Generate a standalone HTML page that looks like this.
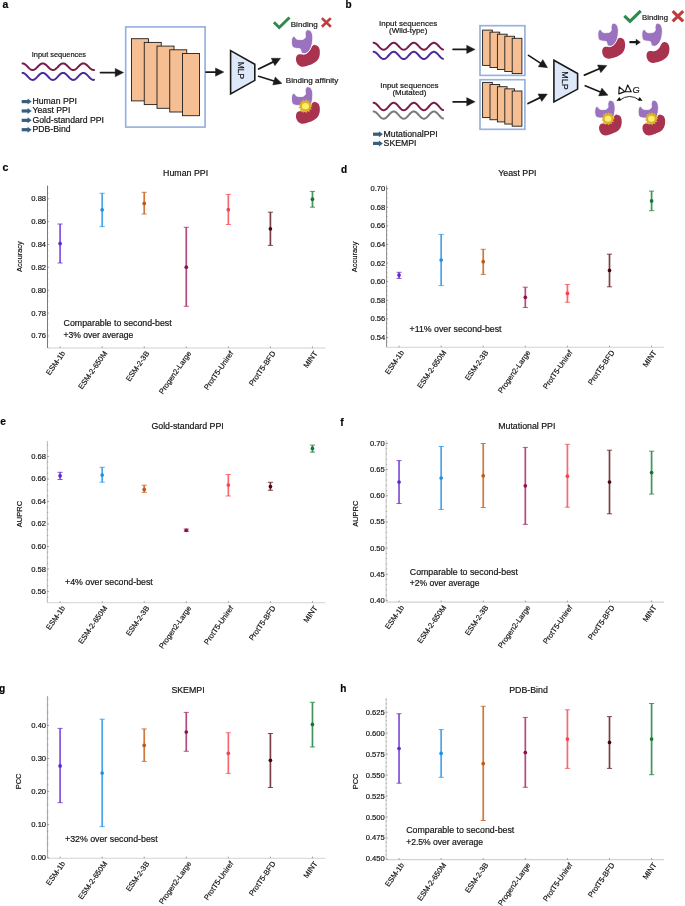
<!DOCTYPE html>
<html><head><meta charset="utf-8"><title>MINT benchmark figure</title><style>html,body{margin:0;padding:0;background:#fff;}body{width:685px;height:906px;overflow:hidden;}svg{display:block;will-change:transform;}</style></head><body>
<svg width="685" height="906" viewBox="0 0 685 906" font-family='"Liberation Sans", sans-serif'>
<style>text{stroke:#111;stroke-width:0.18px;paint-order:stroke;}</style>
<rect width="685" height="906" fill="#ffffff"/>
<text x="2.4" y="8.2" font-size="10.4" font-weight="bold" fill="#000">a</text>
<text x="345.6" y="7.9" font-size="10.0" font-weight="bold" fill="#000">b</text>
<text x="2.4" y="171.4" font-size="10.6" font-weight="bold" fill="#000">c</text>
<text x="341.1" y="172.9" font-size="10.0" font-weight="bold" fill="#000">d</text>
<text x="0.3" y="424.9" font-size="10.2" font-weight="bold" fill="#000">e</text>
<text x="340.3" y="425.6" font-size="10.4" font-weight="bold" fill="#000">f</text>
<text x="-0.9" y="691.6" font-size="10.2" font-weight="bold" fill="#000">g</text>
<text x="340.3" y="691.6" font-size="10.0" font-weight="bold" fill="#000">h</text>
<text x="31.80" y="56.60" font-size="7.4" fill="#111">Input sequences</text>
<polyline points="22.50,63.40 22.95,63.43 23.39,63.53 23.84,63.68 24.29,63.89 24.73,64.16 25.18,64.47 25.63,64.83 26.07,65.22 26.52,65.64 26.97,66.08 27.42,66.54 27.86,66.99 28.31,67.44 28.76,67.88 29.20,68.29 29.65,68.68 30.10,69.02 30.54,69.32 30.99,69.57 31.44,69.77 31.88,69.91 32.33,69.98 32.78,70.00 33.23,69.95 33.67,69.84 34.12,69.66 34.57,69.44 35.01,69.16 35.46,68.83 35.91,68.46 36.35,68.06 36.80,67.63 37.25,67.19 37.69,66.73 38.14,66.28 38.59,65.83 39.03,65.40 39.48,64.99 39.93,64.62 40.38,64.29 40.82,64.00 41.27,63.76 41.72,63.58 42.16,63.46 42.61,63.41 43.06,63.41 43.50,63.48 43.95,63.61 44.40,63.79 44.84,64.04 45.29,64.33 45.74,64.67 46.18,65.05 46.63,65.46 47.08,65.89 47.52,66.34 47.97,66.80 48.42,67.25 48.87,67.70 49.31,68.12 49.76,68.52 50.21,68.88 50.65,69.20 51.10,69.47 51.55,69.69 51.99,69.86 52.44,69.96 52.89,70.00 53.33,69.98 53.78,69.89 54.23,69.75 54.68,69.54 55.12,69.28 55.57,68.97 56.02,68.62 56.46,68.23 56.91,67.82 57.36,67.38 57.80,66.93 58.25,66.47 58.70,66.02 59.14,65.58 59.59,65.16 60.04,64.77 60.48,64.42 60.93,64.12 61.38,63.86 61.83,63.65 62.27,63.51 62.72,63.42 63.17,63.40 63.61,63.44 64.06,63.54 64.51,63.71 64.95,63.93 65.40,64.20 65.85,64.52 66.29,64.89 66.74,65.28 67.19,65.71 67.63,66.15 68.08,66.60 68.53,67.06 68.97,67.51 69.42,67.94 69.87,68.35 70.32,68.73 70.76,69.07 71.21,69.36 71.66,69.61 72.10,69.79 72.55,69.92 73.00,69.99 73.44,69.99 73.89,69.94 74.34,69.81 74.78,69.63 75.23,69.40 75.68,69.11 76.12,68.78 76.57,68.40 77.02,68.00 77.47,67.57 77.91,67.12 78.36,66.66 78.81,66.21 79.25,65.76 79.70,65.34 80.15,64.94 80.59,64.57 81.04,64.24 81.49,63.96 81.93,63.73 82.38,63.56 82.83,63.45 83.28,63.40 83.72,63.42 84.17,63.49 84.62,63.63 85.06,63.83 85.51,64.08 85.96,64.38 86.40,64.73 86.85,65.11 87.30,65.52 87.74,65.96 88.19,66.41 88.64,66.87 89.08,67.32 89.53,67.76 89.98,68.18 90.42,68.57 90.87,68.93 91.32,69.24 91.77,69.51 92.21,69.72 92.66,69.88 93.11,69.97 93.55,70.00 94.00,69.97" fill="none" stroke="#7a1a48" stroke-width="2.0" stroke-linecap="round" stroke-linejoin="round"/>
<polyline points="22.50,72.90 22.95,72.93 23.39,73.03 23.84,73.20 24.29,73.42 24.73,73.70 25.18,74.04 25.63,74.42 26.07,74.83 26.52,75.28 26.97,75.75 27.42,76.23 27.86,76.71 28.31,77.19 28.76,77.65 29.20,78.09 29.65,78.50 30.10,78.86 30.54,79.18 30.99,79.45 31.44,79.66 31.88,79.80 32.33,79.88 32.78,79.90 33.23,79.84 33.67,79.73 34.12,79.54 34.57,79.30 35.01,79.01 35.46,78.66 35.91,78.27 36.35,77.84 36.80,77.39 37.25,76.92 37.69,76.43 38.14,75.95 38.59,75.48 39.03,75.02 39.48,74.59 39.93,74.19 40.38,73.84 40.82,73.54 41.27,73.29 41.72,73.10 42.16,72.97 42.61,72.91 43.06,72.91 43.50,72.98 43.95,73.12 44.40,73.32 44.84,73.58 45.29,73.89 45.74,74.25 46.18,74.65 46.63,75.09 47.08,75.55 47.52,76.02 47.97,76.50 48.42,76.99 48.87,77.46 49.31,77.91 49.76,78.33 50.21,78.71 50.65,79.05 51.10,79.34 51.55,79.58 51.99,79.75 52.44,79.86 52.89,79.90 53.33,79.88 53.78,79.78 54.23,79.63 54.68,79.41 55.12,79.14 55.57,78.81 56.02,78.44 56.46,78.03 56.91,77.58 57.36,77.12 57.80,76.64 58.25,76.16 58.70,75.68 59.14,75.21 59.59,74.77 60.04,74.36 60.48,73.99 60.93,73.66 61.38,73.39 61.83,73.17 62.27,73.01 62.72,72.92 63.17,72.90 63.61,72.94 64.06,73.05 64.51,73.23 64.95,73.46 65.40,73.75 65.85,74.09 66.29,74.48 66.74,74.90 67.19,75.35 67.63,75.82 68.08,76.30 68.53,76.78 68.97,77.26 69.42,77.72 69.87,78.15 70.32,78.55 70.76,78.91 71.21,79.22 71.66,79.48 72.10,79.68 72.55,79.82 73.00,79.89 73.44,79.89 73.89,79.83 74.34,79.70 74.78,79.51 75.23,79.26 75.68,78.96 76.12,78.60 76.57,78.21 77.02,77.78 77.47,77.32 77.91,76.85 78.36,76.36 78.81,75.88 79.25,75.41 79.70,74.96 80.15,74.53 80.59,74.14 81.04,73.79 81.49,73.50 81.93,73.25 82.38,73.07 82.83,72.95 83.28,72.90 83.72,72.92 84.17,73.00 84.62,73.14 85.06,73.35 85.51,73.62 85.96,73.94 86.40,74.31 86.85,74.71 87.30,75.15 87.74,75.61 88.19,76.09 88.64,76.58 89.08,77.06 89.53,77.52 89.98,77.97 90.42,78.39 90.87,78.76 91.32,79.10 91.77,79.38 92.21,79.60 92.66,79.77 93.11,79.87 93.55,79.90 94.00,79.87" fill="none" stroke="#4b2a9c" stroke-width="2.0" stroke-linecap="round" stroke-linejoin="round"/>
<line x1="100.50" y1="72.60" x2="116.00" y2="72.60" stroke="#1a1a1a" stroke-width="1.7" stroke-linecap="round"/><polygon points="123.60,72.60 115.20,76.80 115.20,68.40" fill="#1a1a1a" stroke="#1a1a1a" stroke-width="0.4" stroke-linejoin="round"/>
<rect x="125.7" y="26.9" width="79.4" height="100.2" fill="none" stroke="#9ab2de" stroke-width="1.7"/>
<rect x="131.50" y="38.70" width="17.0" height="62.2" fill="#f6bf93" stroke="#1e1e1e" stroke-width="0.9"/><rect x="144.25" y="42.40" width="17.0" height="62.2" fill="#f6bf93" stroke="#1e1e1e" stroke-width="0.9"/><rect x="157.00" y="46.10" width="17.0" height="62.2" fill="#f6bf93" stroke="#1e1e1e" stroke-width="0.9"/><rect x="169.75" y="49.80" width="17.0" height="62.2" fill="#f6bf93" stroke="#1e1e1e" stroke-width="0.9"/><rect x="182.50" y="53.50" width="17.0" height="62.2" fill="#f6bf93" stroke="#1e1e1e" stroke-width="0.9"/>
<line x1="206.00" y1="72.10" x2="216.30" y2="72.10" stroke="#1a1a1a" stroke-width="1.7" stroke-linecap="round"/><polygon points="223.90,72.10 215.50,76.30 215.50,67.90" fill="#1a1a1a" stroke="#1a1a1a" stroke-width="0.4" stroke-linejoin="round"/>
<polygon points="230.6,50.6 254.8,64.2 254.8,80.4 230.6,94.0" fill="#dde9f8" stroke="#1a1a1a" stroke-width="1.6" stroke-linejoin="miter"/><text x="240.60" y="70.50" text-anchor="middle" font-size="8.4" fill="#111" transform="rotate(90 240.60 70.50)" dy="3.02">MLP</text>
<line x1="258.60" y1="69.00" x2="273.77" y2="61.62" stroke="#1a1a1a" stroke-width="1.7" stroke-linecap="round"/><polygon points="280.60,58.30 274.88,65.75 271.21,58.20" fill="#1a1a1a" stroke="#1a1a1a" stroke-width="0.4" stroke-linejoin="round"/>
<line x1="258.60" y1="76.30" x2="274.73" y2="81.19" stroke="#1a1a1a" stroke-width="1.7" stroke-linecap="round"/><polygon points="282.00,83.40 272.74,84.98 275.18,76.94" fill="#1a1a1a" stroke="#1a1a1a" stroke-width="0.4" stroke-linejoin="round"/>
<path transform="translate(273.0,16.6) scale(1.0)" d="M0.9,5.6 L6.3,10.9 L16.5,0.9" fill="none" stroke="#2f8a4e" stroke-width="3.0" stroke-linecap="butt" stroke-linejoin="miter"/>
<text x="290.70" y="26.50" font-size="8.1" fill="#111">Binding</text>
<g transform="translate(321.0,17.2) scale(1.0)" stroke="#c03c3c" stroke-width="2.6" stroke-linecap="butt"><line x1="0.9" y1="0.9" x2="9.8" y2="9.6"/><line x1="9.8" y1="0.9" x2="0.9" y2="9.6"/></g>
<text x="285.80" y="83.30" font-size="8.1" fill="#111">Binding affinity</text>
<g transform="translate(291.60,29.60) scale(1.0)"><path d="M23.50,15.30 C24.37,15.47 25.83,15.93 26.60,16.80 C27.37,17.67 27.88,18.92 28.10,20.50 C28.32,22.08 28.32,24.55 27.90,26.30 C27.48,28.05 26.75,29.68 25.60,31.00 C24.45,32.32 22.77,33.30 21.00,34.20 C19.23,35.10 16.70,35.90 15.00,36.40 C13.30,36.90 12.13,37.33 10.80,37.20 C9.47,37.07 8.02,36.50 7.00,35.60 C5.98,34.70 5.10,33.13 4.70,31.80 C4.30,30.47 4.28,28.73 4.60,27.60 C4.92,26.47 5.78,25.50 6.60,25.00 C7.42,24.50 8.53,24.60 9.50,24.60 C10.47,24.60 11.38,25.17 12.40,25.00 C13.42,24.83 14.67,24.27 15.60,23.60 C16.53,22.93 17.33,21.97 18.00,21.00 C18.67,20.03 19.03,18.67 19.60,17.80 C20.17,16.93 20.75,16.22 21.40,15.80 C22.05,15.38 22.63,15.13 23.50,15.30 Z" fill="#a9334f" transform="translate(0,0)"/><path d="M15.20,0.40 C16.07,-0.10 17.87,0.32 18.80,1.00 C19.73,1.68 20.40,3.17 20.80,4.50 C21.20,5.83 21.25,7.30 21.20,9.00 C21.15,10.70 20.92,12.93 20.50,14.70 C20.08,16.47 19.50,18.22 18.70,19.60 C17.90,20.98 16.72,22.23 15.70,23.00 C14.68,23.77 13.60,24.23 12.60,24.20 C11.60,24.17 10.33,23.60 9.70,22.80 C9.07,22.00 9.58,20.07 8.80,19.40 C8.02,18.73 6.28,19.10 5.00,18.80 C3.72,18.50 1.95,18.48 1.10,17.60 C0.25,16.72 0.07,14.83 -0.10,13.50 C-0.27,12.17 -0.07,10.62 0.10,9.60 C0.27,8.58 0.53,7.87 0.90,7.40 C1.27,6.93 1.87,6.78 2.30,6.80 C2.73,6.82 3.17,7.15 3.50,7.50 C3.83,7.85 3.92,8.53 4.30,8.90 C4.68,9.27 5.25,9.52 5.80,9.70 C6.35,9.88 6.63,10.02 7.60,10.00 C8.57,9.98 10.57,10.03 11.60,9.60 C12.63,9.17 13.47,8.33 13.80,7.40 C14.13,6.47 13.37,5.17 13.60,4.00 C13.83,2.83 14.33,0.90 15.20,0.40 Z" fill="#9a72bf" stroke="#ffffff" stroke-width="0.9"/></g>
<g transform="translate(291.60,86.60) scale(1.0)"><path d="M23.50,15.30 C24.37,15.47 25.83,15.93 26.60,16.80 C27.37,17.67 27.88,18.92 28.10,20.50 C28.32,22.08 28.32,24.55 27.90,26.30 C27.48,28.05 26.75,29.68 25.60,31.00 C24.45,32.32 22.77,33.30 21.00,34.20 C19.23,35.10 16.70,35.90 15.00,36.40 C13.30,36.90 12.13,37.33 10.80,37.20 C9.47,37.07 8.02,36.50 7.00,35.60 C5.98,34.70 5.10,33.13 4.70,31.80 C4.30,30.47 4.28,28.73 4.60,27.60 C4.92,26.47 5.78,25.50 6.60,25.00 C7.42,24.50 8.53,24.60 9.50,24.60 C10.47,24.60 11.38,25.17 12.40,25.00 C13.42,24.83 14.67,24.27 15.60,23.60 C16.53,22.93 17.33,21.97 18.00,21.00 C18.67,20.03 19.03,18.67 19.60,17.80 C20.17,16.93 20.75,16.22 21.40,15.80 C22.05,15.38 22.63,15.13 23.50,15.30 Z" fill="#a9334f" transform="translate(0,0)"/><path d="M15.20,0.40 C16.07,-0.10 17.87,0.32 18.80,1.00 C19.73,1.68 20.40,3.17 20.80,4.50 C21.20,5.83 21.25,7.30 21.20,9.00 C21.15,10.70 20.92,12.93 20.50,14.70 C20.08,16.47 19.50,18.22 18.70,19.60 C17.90,20.98 16.72,22.23 15.70,23.00 C14.68,23.77 13.60,24.23 12.60,24.20 C11.60,24.17 10.33,23.60 9.70,22.80 C9.07,22.00 9.58,20.07 8.80,19.40 C8.02,18.73 6.28,19.10 5.00,18.80 C3.72,18.50 1.95,18.48 1.10,17.60 C0.25,16.72 0.07,14.83 -0.10,13.50 C-0.27,12.17 -0.07,10.62 0.10,9.60 C0.27,8.58 0.53,7.87 0.90,7.40 C1.27,6.93 1.87,6.78 2.30,6.80 C2.73,6.82 3.17,7.15 3.50,7.50 C3.83,7.85 3.92,8.53 4.30,8.90 C4.68,9.27 5.25,9.52 5.80,9.70 C6.35,9.88 6.63,10.02 7.60,10.00 C8.57,9.98 10.57,10.03 11.60,9.60 C12.63,9.17 13.47,8.33 13.80,7.40 C14.13,6.47 13.37,5.17 13.60,4.00 C13.83,2.83 14.33,0.90 15.20,0.40 Z" fill="#9a72bf" stroke="#ffffff" stroke-width="0.9"/><polygon points="21.00,19.60 18.95,20.87 20.18,22.95 17.77,23.11 17.89,25.53 15.68,24.56 14.67,26.75 13.16,24.86 11.25,26.33 10.79,23.96 8.41,24.37 9.11,22.06 6.81,21.32 8.50,19.60 6.81,17.88 9.11,17.14 8.41,14.83 10.79,15.24 11.25,12.87 13.16,14.34 14.67,12.45 15.68,14.64 17.89,13.67 17.77,16.09 20.18,16.25 18.95,18.33" fill="#deb02a"/><ellipse cx="13.8" cy="19.6" rx="3.5" ry="3.1" fill="#fbf06a"/></g>
<rect x="21.70" y="100.00" width="6.4" height="3.2" fill="#365f80"/><polygon points="27.60,98.60 31.60,101.60 27.60,104.60" fill="#365f80"/>
<text x="32.50" y="104.00" font-size="8.7" fill="#111">Human PPI</text>
<rect x="21.70" y="109.37" width="6.4" height="3.2" fill="#365f80"/><polygon points="27.60,107.97 31.60,110.97 27.60,113.97" fill="#365f80"/>
<text x="32.50" y="113.37" font-size="8.7" fill="#111">Yeast PPI</text>
<rect x="21.70" y="118.74" width="6.4" height="3.2" fill="#365f80"/><polygon points="27.60,117.34 31.60,120.34 27.60,123.34" fill="#365f80"/>
<text x="32.50" y="122.74" font-size="8.7" fill="#111">Gold-standard PPI</text>
<rect x="21.70" y="128.11" width="6.4" height="3.2" fill="#365f80"/><polygon points="27.60,126.71 31.60,129.71 27.60,132.71" fill="#365f80"/>
<text x="32.50" y="132.11" font-size="8.7" fill="#111">PDB-Bind</text>
<text x="408.20" y="26.20" font-size="7.95" text-anchor="middle" fill="#111">Input sequences</text>
<text x="408.20" y="33.30" font-size="7.95" text-anchor="middle" fill="#111">(Wild-type)</text>
<polyline points="373.60,42.80 374.03,42.83 374.47,42.93 374.90,43.08 375.34,43.30 375.77,43.56 376.20,43.88 376.64,44.24 377.07,44.64 377.50,45.07 377.94,45.51 378.37,45.98 378.81,46.44 379.24,46.91 379.67,47.36 380.11,47.79 380.54,48.19 380.97,48.56 381.41,48.89 381.84,49.16 382.28,49.39 382.71,49.55 383.14,49.66 383.58,49.70 384.01,49.68 384.44,49.59 384.88,49.45 385.31,49.25 385.75,48.99 386.18,48.68 386.61,48.32 387.05,47.93 387.48,47.51 387.91,47.06 388.35,46.60 388.78,46.14 389.22,45.67 389.65,45.22 390.08,44.78 390.52,44.37 390.95,44.00 391.38,43.67 391.82,43.38 392.25,43.15 392.69,42.97 393.12,42.86 393.55,42.80 393.99,42.81 394.42,42.89 394.85,43.02 395.29,43.22 395.72,43.47 396.16,43.77 396.59,44.11 397.02,44.50 397.46,44.92 397.89,45.36 398.32,45.82 398.76,46.29 399.19,46.75 399.62,47.21 400.06,47.65 400.49,48.06 400.93,48.44 401.36,48.78 401.79,49.07 402.23,49.32 402.66,49.50 403.10,49.63 403.53,49.69 403.96,49.69 404.40,49.63 404.83,49.51 405.26,49.32 405.70,49.08 406.13,48.79 406.56,48.45 407.00,48.07 407.43,47.66 407.87,47.22 408.30,46.76 408.73,46.29 409.17,45.83 409.60,45.37 410.04,44.93 410.47,44.51 410.90,44.12 411.34,43.77 411.77,43.47 412.20,43.22 412.64,43.03 413.07,42.89 413.50,42.81 413.94,42.80 414.37,42.86 414.81,42.97 415.24,43.14 415.67,43.38 416.11,43.66 416.54,43.99 416.98,44.36 417.41,44.77 417.84,45.21 418.28,45.66 418.71,46.13 419.14,46.59 419.58,47.05 420.01,47.50 420.44,47.92 420.88,48.32 421.31,48.67 421.75,48.98 422.18,49.24 422.61,49.45 423.05,49.59 423.48,49.68 423.92,49.70 424.35,49.66 424.78,49.55 425.22,49.39 425.65,49.17 426.08,48.89 426.52,48.57 426.95,48.20 427.38,47.80 427.82,47.37 428.25,46.92 428.69,46.45 429.12,45.99 429.55,45.52 429.99,45.07 430.42,44.65 430.86,44.25 431.29,43.89 431.72,43.57 432.16,43.30 432.59,43.09 433.02,42.93 433.46,42.83 433.89,42.80 434.32,42.83 434.76,42.92 435.19,43.08 435.63,43.29 436.06,43.56 436.49,43.87 436.93,44.23 437.36,44.63 437.80,45.06 438.23,45.51 438.66,45.97 439.10,46.43 439.53,46.90 439.96,47.35 440.40,47.78 440.83,48.19 441.26,48.55 441.70,48.88 442.13,49.16 442.57,49.38 443.00,49.55" fill="none" stroke="#7a1a48" stroke-width="2.0" stroke-linecap="round" stroke-linejoin="round"/>
<polyline points="373.60,51.80 374.03,51.83 374.47,51.93 374.90,52.09 375.34,52.32 375.77,52.60 376.20,52.93 376.64,53.30 377.07,53.72 377.50,54.16 377.94,54.63 378.37,55.11 378.81,55.60 379.24,56.09 379.67,56.56 380.11,57.01 380.54,57.43 380.97,57.81 381.41,58.15 381.84,58.44 382.28,58.67 382.71,58.85 383.14,58.95 383.58,59.00 384.01,58.98 384.44,58.89 384.88,58.74 385.31,58.53 385.75,58.26 386.18,57.93 386.61,57.56 387.05,57.15 387.48,56.71 387.91,56.25 388.35,55.77 388.78,55.28 389.22,54.80 389.65,54.32 390.08,53.87 390.52,53.44 390.95,53.05 391.38,52.70 391.82,52.41 392.25,52.16 392.69,51.98 393.12,51.86 393.55,51.80 393.99,51.81 394.42,51.89 394.85,52.03 395.29,52.23 395.72,52.49 396.16,52.81 396.59,53.17 397.02,53.57 397.46,54.01 397.89,54.47 398.32,54.95 398.76,55.44 399.19,55.92 399.62,56.40 400.06,56.86 400.49,57.29 400.93,57.69 401.36,58.04 401.79,58.35 402.23,58.60 402.66,58.79 403.10,58.92 403.53,58.99 403.96,58.99 404.40,58.93 404.83,58.80 405.26,58.60 405.70,58.35 406.13,58.05 406.56,57.69 407.00,57.30 407.43,56.87 407.87,56.41 408.30,55.93 408.73,55.45 409.17,54.96 409.60,54.48 410.04,54.02 410.47,53.58 410.90,53.18 411.34,52.82 411.77,52.50 412.20,52.24 412.64,52.04 413.07,51.89 413.50,51.82 413.94,51.80 414.37,51.86 414.81,51.98 415.24,52.16 415.67,52.40 416.11,52.70 416.54,53.04 416.98,53.43 417.41,53.86 417.84,54.31 418.28,54.79 418.71,55.27 419.14,55.76 419.58,56.24 420.01,56.70 420.44,57.15 420.88,57.56 421.31,57.93 421.75,58.25 422.18,58.52 422.61,58.73 423.05,58.89 423.48,58.98 423.92,59.00 424.35,58.96 424.78,58.85 425.22,58.68 425.65,58.44 426.08,58.16 426.52,57.82 426.95,57.44 427.38,57.02 427.82,56.57 428.25,56.10 428.69,55.61 429.12,55.12 429.55,54.64 429.99,54.17 430.42,53.73 430.86,53.31 431.29,52.93 431.72,52.60 432.16,52.32 432.59,52.10 433.02,51.93 433.46,51.83 433.89,51.80 434.32,51.83 434.76,51.93 435.19,52.09 435.63,52.31 436.06,52.59 436.49,52.92 436.93,53.30 437.36,53.71 437.80,54.15 438.23,54.62 438.66,55.10 439.10,55.59 439.53,56.08 439.96,56.55 440.40,57.00 440.83,57.42 441.26,57.80 441.70,58.14 442.13,58.43 442.57,58.67 443.00,58.84" fill="none" stroke="#4b2a9c" stroke-width="2.0" stroke-linecap="round" stroke-linejoin="round"/>
<line x1="453.10" y1="49.40" x2="467.50" y2="49.40" stroke="#1a1a1a" stroke-width="1.7" stroke-linecap="round"/><polygon points="475.10,49.40 466.70,53.60 466.70,45.20" fill="#1a1a1a" stroke="#1a1a1a" stroke-width="0.4" stroke-linejoin="round"/>
<rect x="480.0" y="25.7" width="44.9" height="49.7" fill="none" stroke="#9ab2de" stroke-width="1.7"/>
<rect x="482.60" y="30.10" width="9.7" height="35.3" fill="#f6bf93" stroke="#1e1e1e" stroke-width="0.9"/><rect x="490.00" y="32.15" width="9.7" height="35.3" fill="#f6bf93" stroke="#1e1e1e" stroke-width="0.9"/><rect x="497.40" y="34.20" width="9.7" height="35.3" fill="#f6bf93" stroke="#1e1e1e" stroke-width="0.9"/><rect x="504.80" y="36.25" width="9.7" height="35.3" fill="#f6bf93" stroke="#1e1e1e" stroke-width="0.9"/><rect x="512.20" y="38.30" width="9.7" height="35.3" fill="#f6bf93" stroke="#1e1e1e" stroke-width="0.9"/>
<text x="409.40" y="87.90" font-size="7.95" text-anchor="middle" fill="#111">Input sequences</text>
<text x="409.40" y="94.50" font-size="7.95" text-anchor="middle" fill="#111">(Mutated)</text>
<polyline points="373.60,102.80 374.03,102.83 374.47,102.94 374.90,103.10 375.34,103.33 375.77,103.62 376.20,103.96 376.64,104.35 377.07,104.77 377.50,105.23 377.94,105.71 378.37,106.21 378.81,106.71 379.24,107.21 379.67,107.69 380.11,108.15 380.54,108.58 380.97,108.98 381.41,109.33 381.84,109.62 382.28,109.86 382.71,110.04 383.14,110.15 383.58,110.20 384.01,110.18 384.44,110.09 384.88,109.93 385.31,109.71 385.75,109.43 386.18,109.10 386.61,108.72 387.05,108.30 387.48,107.85 387.91,107.37 388.35,106.88 388.78,106.38 389.22,105.88 389.65,105.39 390.08,104.92 390.52,104.49 390.95,104.08 391.38,103.73 391.82,103.42 392.25,103.17 392.69,102.98 393.12,102.86 393.55,102.80 393.99,102.81 394.42,102.89 394.85,103.04 395.29,103.25 395.72,103.51 396.16,103.84 396.59,104.21 397.02,104.62 397.46,105.07 397.89,105.55 398.32,106.04 398.76,106.54 399.19,107.04 399.62,107.53 400.06,108.00 400.49,108.44 400.93,108.85 401.36,109.21 401.79,109.53 402.23,109.79 402.66,109.99 403.10,110.12 403.53,110.19 403.96,110.19 404.40,110.12 404.83,109.99 405.26,109.79 405.70,109.54 406.13,109.22 406.56,108.86 407.00,108.45 407.43,108.01 407.87,107.54 408.30,107.05 408.73,106.55 409.17,106.05 409.60,105.55 410.04,105.08 410.47,104.63 410.90,104.22 411.34,103.84 411.77,103.52 412.20,103.25 412.64,103.04 413.07,102.90 413.50,102.82 413.94,102.80 414.37,102.86 414.81,102.98 415.24,103.17 415.67,103.42 416.11,103.72 416.54,104.08 416.98,104.48 417.41,104.91 417.84,105.38 418.28,105.87 418.71,106.37 419.14,106.87 419.58,107.36 420.01,107.84 420.44,108.29 420.88,108.72 421.31,109.10 421.75,109.43 422.18,109.71 422.61,109.93 423.05,110.08 423.48,110.18 423.92,110.20 424.35,110.16 424.78,110.04 425.22,109.87 425.65,109.63 426.08,109.33 426.52,108.99 426.95,108.59 427.38,108.16 427.82,107.70 428.25,107.22 428.69,106.72 429.12,106.22 429.55,105.72 429.99,105.24 430.42,104.78 430.86,104.35 431.29,103.97 431.72,103.62 432.16,103.34 432.59,103.11 433.02,102.94 433.46,102.84 433.89,102.80 434.32,102.83 434.76,102.93 435.19,103.10 435.63,103.33 436.06,103.61 436.49,103.95 436.93,104.34 437.36,104.76 437.80,105.22 438.23,105.70 438.66,106.20 439.10,106.70 439.53,107.20 439.96,107.68 440.40,108.14 440.83,108.58 441.26,108.97 441.70,109.32 442.13,109.62 442.57,109.86 443.00,110.04" fill="none" stroke="#7a1a48" stroke-width="2.0" stroke-linecap="round" stroke-linejoin="round"/>
<polyline points="373.60,111.50 374.03,111.53 374.47,111.63 374.90,111.79 375.34,112.02 375.77,112.30 376.20,112.63 376.64,113.00 377.07,113.42 377.50,113.86 377.94,114.33 378.37,114.81 378.81,115.30 379.24,115.79 379.67,116.26 380.11,116.71 380.54,117.13 380.97,117.51 381.41,117.85 381.84,118.14 382.28,118.37 382.71,118.55 383.14,118.65 383.58,118.70 384.01,118.68 384.44,118.59 384.88,118.44 385.31,118.23 385.75,117.96 386.18,117.63 386.61,117.26 387.05,116.85 387.48,116.41 387.91,115.95 388.35,115.47 388.78,114.98 389.22,114.50 389.65,114.02 390.08,113.57 390.52,113.14 390.95,112.75 391.38,112.40 391.82,112.11 392.25,111.86 392.69,111.68 393.12,111.56 393.55,111.50 393.99,111.51 394.42,111.59 394.85,111.73 395.29,111.93 395.72,112.19 396.16,112.51 396.59,112.87 397.02,113.27 397.46,113.71 397.89,114.17 398.32,114.65 398.76,115.14 399.19,115.62 399.62,116.10 400.06,116.56 400.49,116.99 400.93,117.39 401.36,117.74 401.79,118.05 402.23,118.30 402.66,118.49 403.10,118.62 403.53,118.69 403.96,118.69 404.40,118.63 404.83,118.50 405.26,118.30 405.70,118.05 406.13,117.75 406.56,117.39 407.00,117.00 407.43,116.57 407.87,116.11 408.30,115.63 408.73,115.15 409.17,114.66 409.60,114.18 410.04,113.72 410.47,113.28 410.90,112.88 411.34,112.52 411.77,112.20 412.20,111.94 412.64,111.74 413.07,111.59 413.50,111.52 413.94,111.50 414.37,111.56 414.81,111.68 415.24,111.86 415.67,112.10 416.11,112.40 416.54,112.74 416.98,113.13 417.41,113.56 417.84,114.01 418.28,114.49 418.71,114.97 419.14,115.46 419.58,115.94 420.01,116.40 420.44,116.85 420.88,117.26 421.31,117.63 421.75,117.95 422.18,118.22 422.61,118.43 423.05,118.59 423.48,118.68 423.92,118.70 424.35,118.66 424.78,118.55 425.22,118.38 425.65,118.14 426.08,117.86 426.52,117.52 426.95,117.14 427.38,116.72 427.82,116.27 428.25,115.80 428.69,115.31 429.12,114.82 429.55,114.34 429.99,113.87 430.42,113.43 430.86,113.01 431.29,112.63 431.72,112.30 432.16,112.02 432.59,111.80 433.02,111.63 433.46,111.53 433.89,111.50 434.32,111.53 434.76,111.63 435.19,111.79 435.63,112.01 436.06,112.29 436.49,112.62 436.93,113.00 437.36,113.41 437.80,113.85 438.23,114.32 438.66,114.80 439.10,115.29 439.53,115.78 439.96,116.25 440.40,116.70 440.83,117.12 441.26,117.50 441.70,117.84 442.13,118.13 442.57,118.37 443.00,118.54" fill="none" stroke="#7a7a7a" stroke-width="2.0" stroke-linecap="round" stroke-linejoin="round"/>
<line x1="453.10" y1="101.80" x2="467.50" y2="101.80" stroke="#1a1a1a" stroke-width="1.7" stroke-linecap="round"/><polygon points="475.10,101.80 466.70,106.00 466.70,97.60" fill="#1a1a1a" stroke="#1a1a1a" stroke-width="0.4" stroke-linejoin="round"/>
<rect x="480.0" y="79.7" width="44.9" height="49.6" fill="none" stroke="#9ab2de" stroke-width="1.7"/>
<rect x="482.60" y="82.40" width="9.7" height="35.2" fill="#f6bf93" stroke="#1e1e1e" stroke-width="0.9"/><rect x="490.00" y="84.55" width="9.7" height="35.2" fill="#f6bf93" stroke="#1e1e1e" stroke-width="0.9"/><rect x="497.40" y="86.70" width="9.7" height="35.2" fill="#f6bf93" stroke="#1e1e1e" stroke-width="0.9"/><rect x="504.80" y="88.85" width="9.7" height="35.2" fill="#f6bf93" stroke="#1e1e1e" stroke-width="0.9"/><rect x="512.20" y="91.00" width="9.7" height="35.2" fill="#f6bf93" stroke="#1e1e1e" stroke-width="0.9"/>
<line x1="528.50" y1="55.40" x2="541.21" y2="63.59" stroke="#1a1a1a" stroke-width="1.7" stroke-linecap="round"/><polygon points="547.60,67.70 538.26,66.68 542.81,59.62" fill="#1a1a1a" stroke="#1a1a1a" stroke-width="0.4" stroke-linejoin="round"/>
<line x1="528.00" y1="103.60" x2="540.59" y2="97.37" stroke="#1a1a1a" stroke-width="1.7" stroke-linecap="round"/><polygon points="547.40,94.00 541.73,101.49 538.01,93.96" fill="#1a1a1a" stroke="#1a1a1a" stroke-width="0.4" stroke-linejoin="round"/>
<polygon points="553.9,60.3 577.6,73.5 577.6,89.1 553.9,102.0" fill="#dde9f8" stroke="#1a1a1a" stroke-width="1.6" stroke-linejoin="miter"/><text x="565.20" y="80.40" text-anchor="middle" font-size="9.0" fill="#111" transform="rotate(90 565.20 80.40)" dy="3.24">MLP</text>
<line x1="584.40" y1="75.10" x2="599.91" y2="68.48" stroke="#1a1a1a" stroke-width="1.7" stroke-linecap="round"/><polygon points="606.90,65.50 600.82,72.66 597.53,64.93" fill="#1a1a1a" stroke="#1a1a1a" stroke-width="0.4" stroke-linejoin="round"/>
<line x1="585.20" y1="85.80" x2="600.97" y2="92.30" stroke="#1a1a1a" stroke-width="1.7" stroke-linecap="round"/><polygon points="608.00,95.20 598.63,95.88 601.83,88.12" fill="#1a1a1a" stroke="#1a1a1a" stroke-width="0.4" stroke-linejoin="round"/>
<path transform="translate(623.4,9.9) scale(1.05)" d="M0.9,5.6 L6.3,10.9 L16.5,0.9" fill="none" stroke="#2f8a4e" stroke-width="3.0" stroke-linecap="butt" stroke-linejoin="miter"/>
<text x="642.00" y="20.20" font-size="7.8" fill="#111">Binding</text>
<g transform="translate(671.6,10.1) scale(1.18)" stroke="#c03c3c" stroke-width="2.6" stroke-linecap="butt"><line x1="0.9" y1="0.9" x2="9.8" y2="9.6"/><line x1="9.8" y1="0.9" x2="0.9" y2="9.6"/></g>
<g transform="translate(598.00,23.10) scale(0.96)"><path d="M23.50,15.30 C24.37,15.47 25.83,15.93 26.60,16.80 C27.37,17.67 27.88,18.92 28.10,20.50 C28.32,22.08 28.32,24.55 27.90,26.30 C27.48,28.05 26.75,29.68 25.60,31.00 C24.45,32.32 22.77,33.30 21.00,34.20 C19.23,35.10 16.70,35.90 15.00,36.40 C13.30,36.90 12.13,37.33 10.80,37.20 C9.47,37.07 8.02,36.50 7.00,35.60 C5.98,34.70 5.10,33.13 4.70,31.80 C4.30,30.47 4.28,28.73 4.60,27.60 C4.92,26.47 5.78,25.50 6.60,25.00 C7.42,24.50 8.53,24.60 9.50,24.60 C10.47,24.60 11.38,25.17 12.40,25.00 C13.42,24.83 14.67,24.27 15.60,23.60 C16.53,22.93 17.33,21.97 18.00,21.00 C18.67,20.03 19.03,18.67 19.60,17.80 C20.17,16.93 20.75,16.22 21.40,15.80 C22.05,15.38 22.63,15.13 23.50,15.30 Z" fill="#a9334f" transform="translate(0,0)"/><path d="M15.20,0.40 C16.07,-0.10 17.87,0.32 18.80,1.00 C19.73,1.68 20.40,3.17 20.80,4.50 C21.20,5.83 21.25,7.30 21.20,9.00 C21.15,10.70 20.92,12.93 20.50,14.70 C20.08,16.47 19.50,18.22 18.70,19.60 C17.90,20.98 16.72,22.23 15.70,23.00 C14.68,23.77 13.60,24.23 12.60,24.20 C11.60,24.17 10.33,23.60 9.70,22.80 C9.07,22.00 9.58,20.07 8.80,19.40 C8.02,18.73 6.28,19.10 5.00,18.80 C3.72,18.50 1.95,18.48 1.10,17.60 C0.25,16.72 0.07,14.83 -0.10,13.50 C-0.27,12.17 -0.07,10.62 0.10,9.60 C0.27,8.58 0.53,7.87 0.90,7.40 C1.27,6.93 1.87,6.78 2.30,6.80 C2.73,6.82 3.17,7.15 3.50,7.50 C3.83,7.85 3.92,8.53 4.30,8.90 C4.68,9.27 5.25,9.52 5.80,9.70 C6.35,9.88 6.63,10.02 7.60,10.00 C8.57,9.98 10.57,10.03 11.60,9.60 C12.63,9.17 13.47,8.33 13.80,7.40 C14.13,6.47 13.37,5.17 13.60,4.00 C13.83,2.83 14.33,0.90 15.20,0.40 Z" fill="#9a72bf" stroke="#ffffff" stroke-width="0.9"/></g>
<line x1="630.30" y1="42.20" x2="636.80" y2="42.20" stroke="#1a1a1a" stroke-width="2.2" stroke-linecap="round"/><polygon points="640.40,42.20 636.00,45.20 636.00,39.20" fill="#1a1a1a" stroke="#1a1a1a" stroke-width="0.4" stroke-linejoin="round"/>
<g transform="translate(642.00,23.10) scale(0.96)"><path d="M23.50,15.30 C24.37,15.47 25.83,15.93 26.60,16.80 C27.37,17.67 27.88,18.92 28.10,20.50 C28.32,22.08 28.32,24.55 27.90,26.30 C27.48,28.05 26.75,29.68 25.60,31.00 C24.45,32.32 22.77,33.30 21.00,34.20 C19.23,35.10 16.70,35.90 15.00,36.40 C13.30,36.90 12.13,37.33 10.80,37.20 C9.47,37.07 8.02,36.50 7.00,35.60 C5.98,34.70 5.10,33.13 4.70,31.80 C4.30,30.47 4.28,28.73 4.60,27.60 C4.92,26.47 5.78,25.50 6.60,25.00 C7.42,24.50 8.53,24.60 9.50,24.60 C10.47,24.60 11.38,25.17 12.40,25.00 C13.42,24.83 14.67,24.27 15.60,23.60 C16.53,22.93 17.33,21.97 18.00,21.00 C18.67,20.03 19.03,18.67 19.60,17.80 C20.17,16.93 20.75,16.22 21.40,15.80 C22.05,15.38 22.63,15.13 23.50,15.30 Z" fill="#a9334f" transform="translate(0.3,4.4)"/><path d="M15.20,0.40 C16.07,-0.10 17.87,0.32 18.80,1.00 C19.73,1.68 20.40,3.17 20.80,4.50 C21.20,5.83 21.25,7.30 21.20,9.00 C21.15,10.70 20.92,12.93 20.50,14.70 C20.08,16.47 19.50,18.22 18.70,19.60 C17.90,20.98 16.72,22.23 15.70,23.00 C14.68,23.77 13.60,24.23 12.60,24.20 C11.60,24.17 10.33,23.60 9.70,22.80 C9.07,22.00 9.58,20.07 8.80,19.40 C8.02,18.73 6.28,19.10 5.00,18.80 C3.72,18.50 1.95,18.48 1.10,17.60 C0.25,16.72 0.07,14.83 -0.10,13.50 C-0.27,12.17 -0.07,10.62 0.10,9.60 C0.27,8.58 0.53,7.87 0.90,7.40 C1.27,6.93 1.87,6.78 2.30,6.80 C2.73,6.82 3.17,7.15 3.50,7.50 C3.83,7.85 3.92,8.53 4.30,8.90 C4.68,9.27 5.25,9.52 5.80,9.70 C6.35,9.88 6.63,10.02 7.60,10.00 C8.57,9.98 10.57,10.03 11.60,9.60 C12.63,9.17 13.47,8.33 13.80,7.40 C14.13,6.47 13.37,5.17 13.60,4.00 C13.83,2.83 14.33,0.90 15.20,0.40 Z" fill="#9a72bf" stroke="#ffffff" stroke-width="0.9"/></g>
<polygon points="619.2,86.9 618.8,93.9 624.8,91.6" fill="none" stroke="#111" stroke-width="1.15" stroke-linejoin="round"/>
<polygon points="627.7,84.9 625.3,91.6 631.2,91.8" fill="none" stroke="#111" stroke-width="1.15" stroke-linejoin="round"/>
<text x="632.60" y="93.20" font-size="9.2" fill="#111"><tspan font-style="italic">G</tspan></text>
<path d="M619.3,100.5 Q629.6,92.4 639.9,100.5" fill="none" stroke="#111" stroke-width="0.9"/>
<polygon points="616.4,100.9 619.3,97.0 621.3,100.2" fill="#111"/>
<polygon points="642.6,100.9 639.7,97.0 637.7,100.2" fill="#111"/>
<g transform="translate(594.90,100.10) scale(0.95)"><path d="M23.50,15.30 C24.37,15.47 25.83,15.93 26.60,16.80 C27.37,17.67 27.88,18.92 28.10,20.50 C28.32,22.08 28.32,24.55 27.90,26.30 C27.48,28.05 26.75,29.68 25.60,31.00 C24.45,32.32 22.77,33.30 21.00,34.20 C19.23,35.10 16.70,35.90 15.00,36.40 C13.30,36.90 12.13,37.33 10.80,37.20 C9.47,37.07 8.02,36.50 7.00,35.60 C5.98,34.70 5.10,33.13 4.70,31.80 C4.30,30.47 4.28,28.73 4.60,27.60 C4.92,26.47 5.78,25.50 6.60,25.00 C7.42,24.50 8.53,24.60 9.50,24.60 C10.47,24.60 11.38,25.17 12.40,25.00 C13.42,24.83 14.67,24.27 15.60,23.60 C16.53,22.93 17.33,21.97 18.00,21.00 C18.67,20.03 19.03,18.67 19.60,17.80 C20.17,16.93 20.75,16.22 21.40,15.80 C22.05,15.38 22.63,15.13 23.50,15.30 Z" fill="#a9334f" transform="translate(0,0)"/><path d="M15.20,0.40 C16.07,-0.10 17.87,0.32 18.80,1.00 C19.73,1.68 20.40,3.17 20.80,4.50 C21.20,5.83 21.25,7.30 21.20,9.00 C21.15,10.70 20.92,12.93 20.50,14.70 C20.08,16.47 19.50,18.22 18.70,19.60 C17.90,20.98 16.72,22.23 15.70,23.00 C14.68,23.77 13.60,24.23 12.60,24.20 C11.60,24.17 10.33,23.60 9.70,22.80 C9.07,22.00 9.58,20.07 8.80,19.40 C8.02,18.73 6.28,19.10 5.00,18.80 C3.72,18.50 1.95,18.48 1.10,17.60 C0.25,16.72 0.07,14.83 -0.10,13.50 C-0.27,12.17 -0.07,10.62 0.10,9.60 C0.27,8.58 0.53,7.87 0.90,7.40 C1.27,6.93 1.87,6.78 2.30,6.80 C2.73,6.82 3.17,7.15 3.50,7.50 C3.83,7.85 3.92,8.53 4.30,8.90 C4.68,9.27 5.25,9.52 5.80,9.70 C6.35,9.88 6.63,10.02 7.60,10.00 C8.57,9.98 10.57,10.03 11.60,9.60 C12.63,9.17 13.47,8.33 13.80,7.40 C14.13,6.47 13.37,5.17 13.60,4.00 C13.83,2.83 14.33,0.90 15.20,0.40 Z" fill="#9a72bf" stroke="#ffffff" stroke-width="0.9"/><polygon points="21.00,19.60 18.95,20.87 20.18,22.95 17.77,23.11 17.89,25.53 15.68,24.56 14.67,26.75 13.16,24.86 11.25,26.33 10.79,23.96 8.41,24.37 9.11,22.06 6.81,21.32 8.50,19.60 6.81,17.88 9.11,17.14 8.41,14.83 10.79,15.24 11.25,12.87 13.16,14.34 14.67,12.45 15.68,14.64 17.89,13.67 17.77,16.09 20.18,16.25 18.95,18.33" fill="#deb02a"/><ellipse cx="13.8" cy="19.6" rx="3.5" ry="3.1" fill="#fbf06a"/></g>
<g transform="translate(638.30,100.10) scale(0.95)"><path d="M23.50,15.30 C24.37,15.47 25.83,15.93 26.60,16.80 C27.37,17.67 27.88,18.92 28.10,20.50 C28.32,22.08 28.32,24.55 27.90,26.30 C27.48,28.05 26.75,29.68 25.60,31.00 C24.45,32.32 22.77,33.30 21.00,34.20 C19.23,35.10 16.70,35.90 15.00,36.40 C13.30,36.90 12.13,37.33 10.80,37.20 C9.47,37.07 8.02,36.50 7.00,35.60 C5.98,34.70 5.10,33.13 4.70,31.80 C4.30,30.47 4.28,28.73 4.60,27.60 C4.92,26.47 5.78,25.50 6.60,25.00 C7.42,24.50 8.53,24.60 9.50,24.60 C10.47,24.60 11.38,25.17 12.40,25.00 C13.42,24.83 14.67,24.27 15.60,23.60 C16.53,22.93 17.33,21.97 18.00,21.00 C18.67,20.03 19.03,18.67 19.60,17.80 C20.17,16.93 20.75,16.22 21.40,15.80 C22.05,15.38 22.63,15.13 23.50,15.30 Z" fill="#a9334f" transform="translate(0,0)"/><path d="M15.20,0.40 C16.07,-0.10 17.87,0.32 18.80,1.00 C19.73,1.68 20.40,3.17 20.80,4.50 C21.20,5.83 21.25,7.30 21.20,9.00 C21.15,10.70 20.92,12.93 20.50,14.70 C20.08,16.47 19.50,18.22 18.70,19.60 C17.90,20.98 16.72,22.23 15.70,23.00 C14.68,23.77 13.60,24.23 12.60,24.20 C11.60,24.17 10.33,23.60 9.70,22.80 C9.07,22.00 9.58,20.07 8.80,19.40 C8.02,18.73 6.28,19.10 5.00,18.80 C3.72,18.50 1.95,18.48 1.10,17.60 C0.25,16.72 0.07,14.83 -0.10,13.50 C-0.27,12.17 -0.07,10.62 0.10,9.60 C0.27,8.58 0.53,7.87 0.90,7.40 C1.27,6.93 1.87,6.78 2.30,6.80 C2.73,6.82 3.17,7.15 3.50,7.50 C3.83,7.85 3.92,8.53 4.30,8.90 C4.68,9.27 5.25,9.52 5.80,9.70 C6.35,9.88 6.63,10.02 7.60,10.00 C8.57,9.98 10.57,10.03 11.60,9.60 C12.63,9.17 13.47,8.33 13.80,7.40 C14.13,6.47 13.37,5.17 13.60,4.00 C13.83,2.83 14.33,0.90 15.20,0.40 Z" fill="#9a72bf" stroke="#ffffff" stroke-width="0.9"/><polygon points="21.00,19.60 18.95,20.87 20.18,22.95 17.77,23.11 17.89,25.53 15.68,24.56 14.67,26.75 13.16,24.86 11.25,26.33 10.79,23.96 8.41,24.37 9.11,22.06 6.81,21.32 8.50,19.60 6.81,17.88 9.11,17.14 8.41,14.83 10.79,15.24 11.25,12.87 13.16,14.34 14.67,12.45 15.68,14.64 17.89,13.67 17.77,16.09 20.18,16.25 18.95,18.33" fill="#deb02a"/><ellipse cx="13.8" cy="19.6" rx="3.5" ry="3.1" fill="#fbf06a"/></g>
<rect x="373.00" y="132.60" width="6.4" height="3.2" fill="#365f80"/><polygon points="378.90,131.20 382.90,134.20 378.90,137.20" fill="#365f80"/>
<text x="383.60" y="136.90" font-size="8.7" fill="#111">MutationalPPI</text>
<rect x="373.00" y="141.80" width="6.4" height="3.2" fill="#365f80"/><polygon points="378.90,140.40 382.90,143.40 378.90,146.40" fill="#365f80"/>
<text x="383.60" y="146.10" font-size="8.7" fill="#111">SKEMPI</text>
<line x1="47.5" y1="348" x2="325.5" y2="348" stroke="#d2d2d2" stroke-width="1.1"/>
<line x1="47.5" y1="185.6" x2="47.5" y2="348" stroke="#7a7a7a" stroke-width="1.0"/>
<line x1="47.2" y1="198.8" x2="49.1" y2="198.8" stroke="#666" stroke-width="0.6"/>
<text x="46.10" y="201.25" font-size="7.6" text-anchor="end" fill="#111">0.88</text>
<line x1="47.2" y1="221.67" x2="49.1" y2="221.67" stroke="#666" stroke-width="0.6"/>
<text x="46.10" y="224.12" font-size="7.6" text-anchor="end" fill="#111">0.86</text>
<line x1="47.2" y1="244.53" x2="49.1" y2="244.53" stroke="#666" stroke-width="0.6"/>
<text x="46.10" y="246.98" font-size="7.6" text-anchor="end" fill="#111">0.84</text>
<line x1="47.2" y1="267.4" x2="49.1" y2="267.4" stroke="#666" stroke-width="0.6"/>
<text x="46.10" y="269.85" font-size="7.6" text-anchor="end" fill="#111">0.82</text>
<line x1="47.2" y1="290.27" x2="49.1" y2="290.27" stroke="#666" stroke-width="0.6"/>
<text x="46.10" y="292.72" font-size="7.6" text-anchor="end" fill="#111">0.80</text>
<line x1="47.2" y1="313.13" x2="49.1" y2="313.13" stroke="#666" stroke-width="0.6"/>
<text x="46.10" y="315.58" font-size="7.6" text-anchor="end" fill="#111">0.78</text>
<line x1="47.2" y1="336.0" x2="49.1" y2="336.0" stroke="#666" stroke-width="0.6"/>
<text x="46.10" y="338.45" font-size="7.6" text-anchor="end" fill="#111">0.76</text>
<line x1="47.2" y1="187.37" x2="48.4" y2="187.37" stroke="#777" stroke-width="0.5"/>
<line x1="47.2" y1="193.08" x2="48.4" y2="193.08" stroke="#777" stroke-width="0.5"/>
<line x1="47.2" y1="204.52" x2="48.4" y2="204.52" stroke="#777" stroke-width="0.5"/>
<line x1="47.2" y1="210.23" x2="48.4" y2="210.23" stroke="#777" stroke-width="0.5"/>
<line x1="47.2" y1="215.95" x2="48.4" y2="215.95" stroke="#777" stroke-width="0.5"/>
<line x1="47.2" y1="227.38" x2="48.4" y2="227.38" stroke="#777" stroke-width="0.5"/>
<line x1="47.2" y1="233.10" x2="48.4" y2="233.10" stroke="#777" stroke-width="0.5"/>
<line x1="47.2" y1="238.82" x2="48.4" y2="238.82" stroke="#777" stroke-width="0.5"/>
<line x1="47.2" y1="250.25" x2="48.4" y2="250.25" stroke="#777" stroke-width="0.5"/>
<line x1="47.2" y1="255.97" x2="48.4" y2="255.97" stroke="#777" stroke-width="0.5"/>
<line x1="47.2" y1="261.68" x2="48.4" y2="261.68" stroke="#777" stroke-width="0.5"/>
<line x1="47.2" y1="273.12" x2="48.4" y2="273.12" stroke="#777" stroke-width="0.5"/>
<line x1="47.2" y1="278.83" x2="48.4" y2="278.83" stroke="#777" stroke-width="0.5"/>
<line x1="47.2" y1="284.55" x2="48.4" y2="284.55" stroke="#777" stroke-width="0.5"/>
<line x1="47.2" y1="295.98" x2="48.4" y2="295.98" stroke="#777" stroke-width="0.5"/>
<line x1="47.2" y1="301.70" x2="48.4" y2="301.70" stroke="#777" stroke-width="0.5"/>
<line x1="47.2" y1="307.42" x2="48.4" y2="307.42" stroke="#777" stroke-width="0.5"/>
<line x1="47.2" y1="318.85" x2="48.4" y2="318.85" stroke="#777" stroke-width="0.5"/>
<line x1="47.2" y1="324.57" x2="48.4" y2="324.57" stroke="#777" stroke-width="0.5"/>
<line x1="47.2" y1="330.28" x2="48.4" y2="330.28" stroke="#777" stroke-width="0.5"/>
<line x1="47.2" y1="341.72" x2="48.4" y2="341.72" stroke="#777" stroke-width="0.5"/>
<line x1="47.2" y1="347.43" x2="48.4" y2="347.43" stroke="#777" stroke-width="0.5"/>
<line x1="60.1" y1="348" x2="60.1" y2="346.4" stroke="#666" stroke-width="0.6"/>
<text x="65.50" y="353.40" text-anchor="end" font-size="7.55" fill="#111" transform="rotate(-55 65.50 353.40)">ESM-1b</text>
<line x1="102.16" y1="348" x2="102.16" y2="346.4" stroke="#666" stroke-width="0.6"/>
<text x="107.56" y="353.40" text-anchor="end" font-size="7.55" fill="#111" transform="rotate(-55 107.56 353.40)">ESM-2-650M</text>
<line x1="144.22" y1="348" x2="144.22" y2="346.4" stroke="#666" stroke-width="0.6"/>
<text x="149.62" y="353.40" text-anchor="end" font-size="7.55" fill="#111" transform="rotate(-55 149.62 353.40)">ESM-2-3B</text>
<line x1="186.28" y1="348" x2="186.28" y2="346.4" stroke="#666" stroke-width="0.6"/>
<text x="191.68" y="353.40" text-anchor="end" font-size="7.55" fill="#111" transform="rotate(-55 191.68 353.40)">Progen2-Large</text>
<line x1="228.34" y1="348" x2="228.34" y2="346.4" stroke="#666" stroke-width="0.6"/>
<text x="233.74" y="353.40" text-anchor="end" font-size="7.55" fill="#111" transform="rotate(-55 233.74 353.40)">ProtT5-Uniref</text>
<line x1="270.4" y1="348" x2="270.4" y2="346.4" stroke="#666" stroke-width="0.6"/>
<text x="275.80" y="353.40" text-anchor="end" font-size="7.55" fill="#111" transform="rotate(-55 275.80 353.40)">ProtT5-BFD</text>
<line x1="312.46" y1="348" x2="312.46" y2="346.4" stroke="#666" stroke-width="0.6"/>
<text x="317.86" y="353.40" text-anchor="end" font-size="7.55" fill="#111" transform="rotate(-55 317.86 353.40)">MINT</text>
<text x="185.60" y="176.00" font-size="8.8" text-anchor="middle" fill="#111">Human PPI</text>
<text x="21.6" y="256.6" text-anchor="middle" font-size="7.5" fill="#111" transform="rotate(-90 21.6 256.6)">Accuracy</text>
<g stroke="#6225cc" stroke-opacity="0.8"><line x1="60.1" y1="224" x2="60.1" y2="263" stroke-width="1.7"/><line x1="57.5" y1="224" x2="62.7" y2="224" stroke-width="0.9"/><line x1="57.5" y1="263" x2="62.7" y2="263" stroke-width="0.9"/></g>
<circle cx="60.1" cy="243.6" r="1.85" fill="#6225cc"/>
<g stroke="#1a90e6" stroke-opacity="0.8"><line x1="102.16" y1="193.3" x2="102.16" y2="226.6" stroke-width="1.7"/><line x1="99.56" y1="193.3" x2="104.75999999999999" y2="193.3" stroke-width="0.9"/><line x1="99.56" y1="226.6" x2="104.75999999999999" y2="226.6" stroke-width="0.9"/></g>
<circle cx="102.16" cy="209.8" r="1.85" fill="#1a90e6"/>
<g stroke="#c0580f" stroke-opacity="0.8"><line x1="144.22" y1="192.3" x2="144.22" y2="214" stroke-width="1.7"/><line x1="141.62" y1="192.3" x2="146.82" y2="192.3" stroke-width="0.9"/><line x1="141.62" y1="214" x2="146.82" y2="214" stroke-width="0.9"/></g>
<circle cx="144.22" cy="203.4" r="1.85" fill="#c0580f"/>
<g stroke="#a01e60" stroke-opacity="0.8"><line x1="186.28" y1="227.3" x2="186.28" y2="306.3" stroke-width="1.7"/><line x1="183.68" y1="227.3" x2="188.88" y2="227.3" stroke-width="0.9"/><line x1="183.68" y1="306.3" x2="188.88" y2="306.3" stroke-width="0.9"/></g>
<circle cx="186.28" cy="267.2" r="1.85" fill="#8c1050"/>
<g stroke="#f7434f" stroke-opacity="0.8"><line x1="228.34" y1="194.4" x2="228.34" y2="224.5" stroke-width="1.7"/><line x1="225.74" y1="194.4" x2="230.94" y2="194.4" stroke-width="0.9"/><line x1="225.74" y1="224.5" x2="230.94" y2="224.5" stroke-width="0.9"/></g>
<circle cx="228.34" cy="209.7" r="1.85" fill="#f7434f"/>
<g stroke="#5a1018" stroke-opacity="0.8"><line x1="270.4" y1="212.2" x2="270.4" y2="245.4" stroke-width="1.7"/><line x1="267.79999999999995" y1="212.2" x2="273.0" y2="212.2" stroke-width="0.9"/><line x1="267.79999999999995" y1="245.4" x2="273.0" y2="245.4" stroke-width="0.9"/></g>
<circle cx="270.4" cy="228.8" r="1.85" fill="#4a0810"/>
<g stroke="#137a35" stroke-opacity="0.8"><line x1="312.46" y1="191.4" x2="312.46" y2="207.2" stroke-width="1.7"/><line x1="309.85999999999996" y1="191.4" x2="315.06" y2="191.4" stroke-width="0.9"/><line x1="309.85999999999996" y1="207.2" x2="315.06" y2="207.2" stroke-width="0.9"/></g>
<circle cx="312.46" cy="199.2" r="1.85" fill="#137a35"/>
<text x="63.60" y="326.10" font-size="8.8" fill="#111">Comparable to second-best</text>
<text x="63.60" y="338.40" font-size="8.55" fill="#111">+3% over average</text>
<line x1="386.6" y1="347.2" x2="664" y2="347.2" stroke="#d2d2d2" stroke-width="1.1"/>
<line x1="386.6" y1="185.5" x2="386.6" y2="347.2" stroke="#8a8a8a" stroke-width="1.0"/>
<line x1="386.3" y1="188.6" x2="388.20000000000005" y2="188.6" stroke="#666" stroke-width="0.6"/>
<text x="385.20" y="191.05" font-size="7.6" text-anchor="end" fill="#111">0.70</text>
<line x1="386.3" y1="207.21" x2="388.20000000000005" y2="207.21" stroke="#666" stroke-width="0.6"/>
<text x="385.20" y="209.66" font-size="7.6" text-anchor="end" fill="#111">0.68</text>
<line x1="386.3" y1="225.82" x2="388.20000000000005" y2="225.82" stroke="#666" stroke-width="0.6"/>
<text x="385.20" y="228.27" font-size="7.6" text-anchor="end" fill="#111">0.66</text>
<line x1="386.3" y1="244.44" x2="388.20000000000005" y2="244.44" stroke="#666" stroke-width="0.6"/>
<text x="385.20" y="246.89" font-size="7.6" text-anchor="end" fill="#111">0.64</text>
<line x1="386.3" y1="263.05" x2="388.20000000000005" y2="263.05" stroke="#666" stroke-width="0.6"/>
<text x="385.20" y="265.50" font-size="7.6" text-anchor="end" fill="#111">0.62</text>
<line x1="386.3" y1="281.66" x2="388.20000000000005" y2="281.66" stroke="#666" stroke-width="0.6"/>
<text x="385.20" y="284.11" font-size="7.6" text-anchor="end" fill="#111">0.60</text>
<line x1="386.3" y1="300.27" x2="388.20000000000005" y2="300.27" stroke="#666" stroke-width="0.6"/>
<text x="385.20" y="302.72" font-size="7.6" text-anchor="end" fill="#111">0.58</text>
<line x1="386.3" y1="318.89" x2="388.20000000000005" y2="318.89" stroke="#666" stroke-width="0.6"/>
<text x="385.20" y="321.34" font-size="7.6" text-anchor="end" fill="#111">0.56</text>
<line x1="386.3" y1="337.5" x2="388.20000000000005" y2="337.5" stroke="#666" stroke-width="0.6"/>
<text x="385.20" y="339.95" font-size="7.6" text-anchor="end" fill="#111">0.54</text>
<line x1="386.3" y1="193.25" x2="387.5" y2="193.25" stroke="#777" stroke-width="0.5"/>
<line x1="386.3" y1="197.91" x2="387.5" y2="197.91" stroke="#777" stroke-width="0.5"/>
<line x1="386.3" y1="202.56" x2="387.5" y2="202.56" stroke="#777" stroke-width="0.5"/>
<line x1="386.3" y1="211.87" x2="387.5" y2="211.87" stroke="#777" stroke-width="0.5"/>
<line x1="386.3" y1="216.52" x2="387.5" y2="216.52" stroke="#777" stroke-width="0.5"/>
<line x1="386.3" y1="221.17" x2="387.5" y2="221.17" stroke="#777" stroke-width="0.5"/>
<line x1="386.3" y1="230.48" x2="387.5" y2="230.48" stroke="#777" stroke-width="0.5"/>
<line x1="386.3" y1="235.13" x2="387.5" y2="235.13" stroke="#777" stroke-width="0.5"/>
<line x1="386.3" y1="239.78" x2="387.5" y2="239.78" stroke="#777" stroke-width="0.5"/>
<line x1="386.3" y1="249.09" x2="387.5" y2="249.09" stroke="#777" stroke-width="0.5"/>
<line x1="386.3" y1="253.74" x2="387.5" y2="253.74" stroke="#777" stroke-width="0.5"/>
<line x1="386.3" y1="258.40" x2="387.5" y2="258.40" stroke="#777" stroke-width="0.5"/>
<line x1="386.3" y1="267.70" x2="387.5" y2="267.70" stroke="#777" stroke-width="0.5"/>
<line x1="386.3" y1="272.36" x2="387.5" y2="272.36" stroke="#777" stroke-width="0.5"/>
<line x1="386.3" y1="277.01" x2="387.5" y2="277.01" stroke="#777" stroke-width="0.5"/>
<line x1="386.3" y1="286.32" x2="387.5" y2="286.32" stroke="#777" stroke-width="0.5"/>
<line x1="386.3" y1="290.97" x2="387.5" y2="290.97" stroke="#777" stroke-width="0.5"/>
<line x1="386.3" y1="295.62" x2="387.5" y2="295.62" stroke="#777" stroke-width="0.5"/>
<line x1="386.3" y1="304.93" x2="387.5" y2="304.93" stroke="#777" stroke-width="0.5"/>
<line x1="386.3" y1="309.58" x2="387.5" y2="309.58" stroke="#777" stroke-width="0.5"/>
<line x1="386.3" y1="314.23" x2="387.5" y2="314.23" stroke="#777" stroke-width="0.5"/>
<line x1="386.3" y1="323.54" x2="387.5" y2="323.54" stroke="#777" stroke-width="0.5"/>
<line x1="386.3" y1="328.19" x2="387.5" y2="328.19" stroke="#777" stroke-width="0.5"/>
<line x1="386.3" y1="332.85" x2="387.5" y2="332.85" stroke="#777" stroke-width="0.5"/>
<line x1="386.3" y1="342.15" x2="387.5" y2="342.15" stroke="#777" stroke-width="0.5"/>
<line x1="399.05" y1="347.2" x2="399.05" y2="345.59999999999997" stroke="#666" stroke-width="0.6"/>
<text x="404.45" y="352.60" text-anchor="end" font-size="7.55" fill="#111" transform="rotate(-55 404.45 352.60)">ESM-1b</text>
<line x1="441.14" y1="347.2" x2="441.14" y2="345.59999999999997" stroke="#666" stroke-width="0.6"/>
<text x="446.54" y="352.60" text-anchor="end" font-size="7.55" fill="#111" transform="rotate(-55 446.54 352.60)">ESM-2-650M</text>
<line x1="483.23" y1="347.2" x2="483.23" y2="345.59999999999997" stroke="#666" stroke-width="0.6"/>
<text x="488.63" y="352.60" text-anchor="end" font-size="7.55" fill="#111" transform="rotate(-55 488.63 352.60)">ESM-2-3B</text>
<line x1="525.32" y1="347.2" x2="525.32" y2="345.59999999999997" stroke="#666" stroke-width="0.6"/>
<text x="530.72" y="352.60" text-anchor="end" font-size="7.55" fill="#111" transform="rotate(-55 530.72 352.60)">Progen2-Large</text>
<line x1="567.41" y1="347.2" x2="567.41" y2="345.59999999999997" stroke="#666" stroke-width="0.6"/>
<text x="572.81" y="352.60" text-anchor="end" font-size="7.55" fill="#111" transform="rotate(-55 572.81 352.60)">ProtT5-Uniref</text>
<line x1="609.5" y1="347.2" x2="609.5" y2="345.59999999999997" stroke="#666" stroke-width="0.6"/>
<text x="614.90" y="352.60" text-anchor="end" font-size="7.55" fill="#111" transform="rotate(-55 614.90 352.60)">ProtT5-BFD</text>
<line x1="651.59" y1="347.2" x2="651.59" y2="345.59999999999997" stroke="#666" stroke-width="0.6"/>
<text x="656.99" y="352.60" text-anchor="end" font-size="7.55" fill="#111" transform="rotate(-55 656.99 352.60)">MINT</text>
<text x="517.40" y="176.30" font-size="8.8" text-anchor="middle" fill="#111">Yeast PPI</text>
<text x="357.5" y="256.8" text-anchor="middle" font-size="7.5" fill="#111" transform="rotate(-90 357.5 256.8)">Accuracy</text>
<g stroke="#6225cc" stroke-opacity="0.8"><line x1="399.05" y1="272.3" x2="399.05" y2="278.4" stroke-width="1.7"/><line x1="396.45" y1="272.3" x2="401.65000000000003" y2="272.3" stroke-width="0.9"/><line x1="396.45" y1="278.4" x2="401.65000000000003" y2="278.4" stroke-width="0.9"/></g>
<circle cx="399.05" cy="275.1" r="1.85" fill="#6225cc"/>
<g stroke="#1a90e6" stroke-opacity="0.8"><line x1="441.14" y1="234.4" x2="441.14" y2="285.6" stroke-width="1.7"/><line x1="438.53999999999996" y1="234.4" x2="443.74" y2="234.4" stroke-width="0.9"/><line x1="438.53999999999996" y1="285.6" x2="443.74" y2="285.6" stroke-width="0.9"/></g>
<circle cx="441.14" cy="260" r="1.85" fill="#1a90e6"/>
<g stroke="#c0580f" stroke-opacity="0.8"><line x1="483.23" y1="249.3" x2="483.23" y2="274.4" stroke-width="1.7"/><line x1="480.63" y1="249.3" x2="485.83000000000004" y2="249.3" stroke-width="0.9"/><line x1="480.63" y1="274.4" x2="485.83000000000004" y2="274.4" stroke-width="0.9"/></g>
<circle cx="483.23" cy="261.7" r="1.85" fill="#c0580f"/>
<g stroke="#a01e60" stroke-opacity="0.8"><line x1="525.32" y1="287.2" x2="525.32" y2="307.5" stroke-width="1.7"/><line x1="522.72" y1="287.2" x2="527.9200000000001" y2="287.2" stroke-width="0.9"/><line x1="522.72" y1="307.5" x2="527.9200000000001" y2="307.5" stroke-width="0.9"/></g>
<circle cx="525.32" cy="297.3" r="1.85" fill="#8c1050"/>
<g stroke="#f7434f" stroke-opacity="0.8"><line x1="567.41" y1="284.5" x2="567.41" y2="302.3" stroke-width="1.7"/><line x1="564.81" y1="284.5" x2="570.01" y2="284.5" stroke-width="0.9"/><line x1="564.81" y1="302.3" x2="570.01" y2="302.3" stroke-width="0.9"/></g>
<circle cx="567.41" cy="293.4" r="1.85" fill="#f7434f"/>
<g stroke="#5a1018" stroke-opacity="0.8"><line x1="609.5" y1="254.2" x2="609.5" y2="286.8" stroke-width="1.7"/><line x1="606.9" y1="254.2" x2="612.1" y2="254.2" stroke-width="0.9"/><line x1="606.9" y1="286.8" x2="612.1" y2="286.8" stroke-width="0.9"/></g>
<circle cx="609.5" cy="270.4" r="1.85" fill="#4a0810"/>
<g stroke="#137a35" stroke-opacity="0.8"><line x1="651.59" y1="191.1" x2="651.59" y2="210.7" stroke-width="1.7"/><line x1="648.99" y1="191.1" x2="654.19" y2="191.1" stroke-width="0.9"/><line x1="648.99" y1="210.7" x2="654.19" y2="210.7" stroke-width="0.9"/></g>
<circle cx="651.59" cy="200.9" r="1.85" fill="#137a35"/>
<text x="409.50" y="331.80" font-size="8.8" fill="#111">+11% over second-best</text>
<line x1="47.4" y1="602.7" x2="325.5" y2="602.7" stroke="#d2d2d2" stroke-width="1.1"/>
<line x1="47.4" y1="441" x2="47.4" y2="602.7" stroke="#c4c4c4" stroke-width="1.2"/>
<line x1="47.1" y1="456.4" x2="49.0" y2="456.4" stroke="#666" stroke-width="0.6"/>
<text x="46.00" y="458.85" font-size="7.6" text-anchor="end" fill="#111">0.68</text>
<line x1="47.1" y1="478.93" x2="49.0" y2="478.93" stroke="#666" stroke-width="0.6"/>
<text x="46.00" y="481.38" font-size="7.6" text-anchor="end" fill="#111">0.66</text>
<line x1="47.1" y1="501.47" x2="49.0" y2="501.47" stroke="#666" stroke-width="0.6"/>
<text x="46.00" y="503.92" font-size="7.6" text-anchor="end" fill="#111">0.64</text>
<line x1="47.1" y1="524.0" x2="49.0" y2="524.0" stroke="#666" stroke-width="0.6"/>
<text x="46.00" y="526.45" font-size="7.6" text-anchor="end" fill="#111">0.62</text>
<line x1="47.1" y1="546.53" x2="49.0" y2="546.53" stroke="#666" stroke-width="0.6"/>
<text x="46.00" y="548.98" font-size="7.6" text-anchor="end" fill="#111">0.60</text>
<line x1="47.1" y1="569.07" x2="49.0" y2="569.07" stroke="#666" stroke-width="0.6"/>
<text x="46.00" y="571.52" font-size="7.6" text-anchor="end" fill="#111">0.58</text>
<line x1="47.1" y1="591.6" x2="49.0" y2="591.6" stroke="#666" stroke-width="0.6"/>
<text x="46.00" y="594.05" font-size="7.6" text-anchor="end" fill="#111">0.56</text>
<line x1="47.1" y1="445.13" x2="48.3" y2="445.13" stroke="#777" stroke-width="0.5"/>
<line x1="47.1" y1="450.77" x2="48.3" y2="450.77" stroke="#777" stroke-width="0.5"/>
<line x1="47.1" y1="462.03" x2="48.3" y2="462.03" stroke="#777" stroke-width="0.5"/>
<line x1="47.1" y1="467.67" x2="48.3" y2="467.67" stroke="#777" stroke-width="0.5"/>
<line x1="47.1" y1="473.30" x2="48.3" y2="473.30" stroke="#777" stroke-width="0.5"/>
<line x1="47.1" y1="484.57" x2="48.3" y2="484.57" stroke="#777" stroke-width="0.5"/>
<line x1="47.1" y1="490.20" x2="48.3" y2="490.20" stroke="#777" stroke-width="0.5"/>
<line x1="47.1" y1="495.83" x2="48.3" y2="495.83" stroke="#777" stroke-width="0.5"/>
<line x1="47.1" y1="507.10" x2="48.3" y2="507.10" stroke="#777" stroke-width="0.5"/>
<line x1="47.1" y1="512.73" x2="48.3" y2="512.73" stroke="#777" stroke-width="0.5"/>
<line x1="47.1" y1="518.37" x2="48.3" y2="518.37" stroke="#777" stroke-width="0.5"/>
<line x1="47.1" y1="529.63" x2="48.3" y2="529.63" stroke="#777" stroke-width="0.5"/>
<line x1="47.1" y1="535.27" x2="48.3" y2="535.27" stroke="#777" stroke-width="0.5"/>
<line x1="47.1" y1="540.90" x2="48.3" y2="540.90" stroke="#777" stroke-width="0.5"/>
<line x1="47.1" y1="552.17" x2="48.3" y2="552.17" stroke="#777" stroke-width="0.5"/>
<line x1="47.1" y1="557.80" x2="48.3" y2="557.80" stroke="#777" stroke-width="0.5"/>
<line x1="47.1" y1="563.43" x2="48.3" y2="563.43" stroke="#777" stroke-width="0.5"/>
<line x1="47.1" y1="574.70" x2="48.3" y2="574.70" stroke="#777" stroke-width="0.5"/>
<line x1="47.1" y1="580.33" x2="48.3" y2="580.33" stroke="#777" stroke-width="0.5"/>
<line x1="47.1" y1="585.97" x2="48.3" y2="585.97" stroke="#777" stroke-width="0.5"/>
<line x1="47.1" y1="597.23" x2="48.3" y2="597.23" stroke="#777" stroke-width="0.5"/>
<line x1="60.1" y1="602.7" x2="60.1" y2="601.1" stroke="#666" stroke-width="0.6"/>
<text x="65.50" y="608.10" text-anchor="end" font-size="7.55" fill="#111" transform="rotate(-55 65.50 608.10)">ESM-1b</text>
<line x1="102.16" y1="602.7" x2="102.16" y2="601.1" stroke="#666" stroke-width="0.6"/>
<text x="107.56" y="608.10" text-anchor="end" font-size="7.55" fill="#111" transform="rotate(-55 107.56 608.10)">ESM-2-650M</text>
<line x1="144.22" y1="602.7" x2="144.22" y2="601.1" stroke="#666" stroke-width="0.6"/>
<text x="149.62" y="608.10" text-anchor="end" font-size="7.55" fill="#111" transform="rotate(-55 149.62 608.10)">ESM-2-3B</text>
<line x1="186.28" y1="602.7" x2="186.28" y2="601.1" stroke="#666" stroke-width="0.6"/>
<text x="191.68" y="608.10" text-anchor="end" font-size="7.55" fill="#111" transform="rotate(-55 191.68 608.10)">Progen2-Large</text>
<line x1="228.34" y1="602.7" x2="228.34" y2="601.1" stroke="#666" stroke-width="0.6"/>
<text x="233.74" y="608.10" text-anchor="end" font-size="7.55" fill="#111" transform="rotate(-55 233.74 608.10)">ProtT5-Uniref</text>
<line x1="270.4" y1="602.7" x2="270.4" y2="601.1" stroke="#666" stroke-width="0.6"/>
<text x="275.80" y="608.10" text-anchor="end" font-size="7.55" fill="#111" transform="rotate(-55 275.80 608.10)">ProtT5-BFD</text>
<line x1="312.46" y1="602.7" x2="312.46" y2="601.1" stroke="#666" stroke-width="0.6"/>
<text x="317.86" y="608.10" text-anchor="end" font-size="7.55" fill="#111" transform="rotate(-55 317.86 608.10)">MINT</text>
<text x="187.60" y="428.50" font-size="8.8" text-anchor="middle" fill="#111">Gold-standard PPI</text>
<text x="21.8" y="514.0" text-anchor="middle" font-size="7.5" fill="#111" transform="rotate(-90 21.8 514.0)">AUPRC</text>
<g stroke="#6225cc" stroke-opacity="0.8"><line x1="60.1" y1="472.3" x2="60.1" y2="479.5" stroke-width="1.7"/><line x1="57.5" y1="472.3" x2="62.7" y2="472.3" stroke-width="0.9"/><line x1="57.5" y1="479.5" x2="62.7" y2="479.5" stroke-width="0.9"/></g>
<circle cx="60.1" cy="475.8" r="1.85" fill="#6225cc"/>
<g stroke="#1a90e6" stroke-opacity="0.8"><line x1="102.16" y1="467.3" x2="102.16" y2="482.2" stroke-width="1.7"/><line x1="99.56" y1="467.3" x2="104.75999999999999" y2="467.3" stroke-width="0.9"/><line x1="99.56" y1="482.2" x2="104.75999999999999" y2="482.2" stroke-width="0.9"/></g>
<circle cx="102.16" cy="475" r="1.85" fill="#1a90e6"/>
<g stroke="#c0580f" stroke-opacity="0.8"><line x1="144.22" y1="485.2" x2="144.22" y2="492.4" stroke-width="1.7"/><line x1="141.62" y1="485.2" x2="146.82" y2="485.2" stroke-width="0.9"/><line x1="141.62" y1="492.4" x2="146.82" y2="492.4" stroke-width="0.9"/></g>
<circle cx="144.22" cy="489.4" r="1.85" fill="#c0580f"/>
<g stroke="#a01e60" stroke-opacity="0.8"><line x1="186.28" y1="529" x2="186.28" y2="531.5" stroke-width="1.7"/><line x1="183.68" y1="529" x2="188.88" y2="529" stroke-width="0.9"/><line x1="183.68" y1="531.5" x2="188.88" y2="531.5" stroke-width="0.9"/></g>
<circle cx="186.28" cy="530.3" r="1.85" fill="#8c1050"/>
<g stroke="#f7434f" stroke-opacity="0.8"><line x1="228.34" y1="474.5" x2="228.34" y2="496" stroke-width="1.7"/><line x1="225.74" y1="474.5" x2="230.94" y2="474.5" stroke-width="0.9"/><line x1="225.74" y1="496" x2="230.94" y2="496" stroke-width="0.9"/></g>
<circle cx="228.34" cy="485" r="1.85" fill="#f7434f"/>
<g stroke="#5a1018" stroke-opacity="0.8"><line x1="270.4" y1="482.3" x2="270.4" y2="490.3" stroke-width="1.7"/><line x1="267.79999999999995" y1="482.3" x2="273.0" y2="482.3" stroke-width="0.9"/><line x1="267.79999999999995" y1="490.3" x2="273.0" y2="490.3" stroke-width="0.9"/></g>
<circle cx="270.4" cy="486.6" r="1.85" fill="#4a0810"/>
<g stroke="#137a35" stroke-opacity="0.8"><line x1="312.46" y1="445.1" x2="312.46" y2="452.2" stroke-width="1.7"/><line x1="309.85999999999996" y1="445.1" x2="315.06" y2="445.1" stroke-width="0.9"/><line x1="309.85999999999996" y1="452.2" x2="315.06" y2="452.2" stroke-width="0.9"/></g>
<circle cx="312.46" cy="448.4" r="1.85" fill="#137a35"/>
<text x="65.00" y="584.60" font-size="8.8" fill="#111">+4% over second-best</text>
<line x1="386.2" y1="602.1" x2="664" y2="602.1" stroke="#d2d2d2" stroke-width="1.1"/>
<line x1="386.2" y1="440.3" x2="386.2" y2="602.1" stroke="#d4d4d4" stroke-width="1.4"/>
<line x1="385.9" y1="443.5" x2="387.8" y2="443.5" stroke="#666" stroke-width="0.6"/>
<text x="384.80" y="445.95" font-size="7.6" text-anchor="end" fill="#111">0.70</text>
<line x1="385.9" y1="469.65" x2="387.8" y2="469.65" stroke="#666" stroke-width="0.6"/>
<text x="384.80" y="472.10" font-size="7.6" text-anchor="end" fill="#111">0.65</text>
<line x1="385.9" y1="495.8" x2="387.8" y2="495.8" stroke="#666" stroke-width="0.6"/>
<text x="384.80" y="498.25" font-size="7.6" text-anchor="end" fill="#111">0.60</text>
<line x1="385.9" y1="521.95" x2="387.8" y2="521.95" stroke="#666" stroke-width="0.6"/>
<text x="384.80" y="524.40" font-size="7.6" text-anchor="end" fill="#111">0.55</text>
<line x1="385.9" y1="548.1" x2="387.8" y2="548.1" stroke="#666" stroke-width="0.6"/>
<text x="384.80" y="550.55" font-size="7.6" text-anchor="end" fill="#111">0.50</text>
<line x1="385.9" y1="574.25" x2="387.8" y2="574.25" stroke="#666" stroke-width="0.6"/>
<text x="384.80" y="576.70" font-size="7.6" text-anchor="end" fill="#111">0.45</text>
<line x1="385.9" y1="600.4" x2="387.8" y2="600.4" stroke="#666" stroke-width="0.6"/>
<text x="384.80" y="602.85" font-size="7.6" text-anchor="end" fill="#111">0.40</text>
<line x1="385.9" y1="448.73" x2="387.09999999999997" y2="448.73" stroke="#777" stroke-width="0.5"/>
<line x1="385.9" y1="453.96" x2="387.09999999999997" y2="453.96" stroke="#777" stroke-width="0.5"/>
<line x1="385.9" y1="459.19" x2="387.09999999999997" y2="459.19" stroke="#777" stroke-width="0.5"/>
<line x1="385.9" y1="464.42" x2="387.09999999999997" y2="464.42" stroke="#777" stroke-width="0.5"/>
<line x1="385.9" y1="474.88" x2="387.09999999999997" y2="474.88" stroke="#777" stroke-width="0.5"/>
<line x1="385.9" y1="480.11" x2="387.09999999999997" y2="480.11" stroke="#777" stroke-width="0.5"/>
<line x1="385.9" y1="485.34" x2="387.09999999999997" y2="485.34" stroke="#777" stroke-width="0.5"/>
<line x1="385.9" y1="490.57" x2="387.09999999999997" y2="490.57" stroke="#777" stroke-width="0.5"/>
<line x1="385.9" y1="501.03" x2="387.09999999999997" y2="501.03" stroke="#777" stroke-width="0.5"/>
<line x1="385.9" y1="506.26" x2="387.09999999999997" y2="506.26" stroke="#777" stroke-width="0.5"/>
<line x1="385.9" y1="511.49" x2="387.09999999999997" y2="511.49" stroke="#777" stroke-width="0.5"/>
<line x1="385.9" y1="516.72" x2="387.09999999999997" y2="516.72" stroke="#777" stroke-width="0.5"/>
<line x1="385.9" y1="527.18" x2="387.09999999999997" y2="527.18" stroke="#777" stroke-width="0.5"/>
<line x1="385.9" y1="532.41" x2="387.09999999999997" y2="532.41" stroke="#777" stroke-width="0.5"/>
<line x1="385.9" y1="537.64" x2="387.09999999999997" y2="537.64" stroke="#777" stroke-width="0.5"/>
<line x1="385.9" y1="542.87" x2="387.09999999999997" y2="542.87" stroke="#777" stroke-width="0.5"/>
<line x1="385.9" y1="553.33" x2="387.09999999999997" y2="553.33" stroke="#777" stroke-width="0.5"/>
<line x1="385.9" y1="558.56" x2="387.09999999999997" y2="558.56" stroke="#777" stroke-width="0.5"/>
<line x1="385.9" y1="563.79" x2="387.09999999999997" y2="563.79" stroke="#777" stroke-width="0.5"/>
<line x1="385.9" y1="569.02" x2="387.09999999999997" y2="569.02" stroke="#777" stroke-width="0.5"/>
<line x1="385.9" y1="579.48" x2="387.09999999999997" y2="579.48" stroke="#777" stroke-width="0.5"/>
<line x1="385.9" y1="584.71" x2="387.09999999999997" y2="584.71" stroke="#777" stroke-width="0.5"/>
<line x1="385.9" y1="589.94" x2="387.09999999999997" y2="589.94" stroke="#777" stroke-width="0.5"/>
<line x1="385.9" y1="595.17" x2="387.09999999999997" y2="595.17" stroke="#777" stroke-width="0.5"/>
<line x1="399.05" y1="602.1" x2="399.05" y2="600.5" stroke="#666" stroke-width="0.6"/>
<text x="404.45" y="607.50" text-anchor="end" font-size="7.55" fill="#111" transform="rotate(-55 404.45 607.50)">ESM-1b</text>
<line x1="441.14" y1="602.1" x2="441.14" y2="600.5" stroke="#666" stroke-width="0.6"/>
<text x="446.54" y="607.50" text-anchor="end" font-size="7.55" fill="#111" transform="rotate(-55 446.54 607.50)">ESM-2-650M</text>
<line x1="483.23" y1="602.1" x2="483.23" y2="600.5" stroke="#666" stroke-width="0.6"/>
<text x="488.63" y="607.50" text-anchor="end" font-size="7.55" fill="#111" transform="rotate(-55 488.63 607.50)">ESM-2-3B</text>
<line x1="525.32" y1="602.1" x2="525.32" y2="600.5" stroke="#666" stroke-width="0.6"/>
<text x="530.72" y="607.50" text-anchor="end" font-size="7.55" fill="#111" transform="rotate(-55 530.72 607.50)">Progen2-Large</text>
<line x1="567.41" y1="602.1" x2="567.41" y2="600.5" stroke="#666" stroke-width="0.6"/>
<text x="572.81" y="607.50" text-anchor="end" font-size="7.55" fill="#111" transform="rotate(-55 572.81 607.50)">ProtT5-Uniref</text>
<line x1="609.5" y1="602.1" x2="609.5" y2="600.5" stroke="#666" stroke-width="0.6"/>
<text x="614.90" y="607.50" text-anchor="end" font-size="7.55" fill="#111" transform="rotate(-55 614.90 607.50)">ProtT5-BFD</text>
<line x1="651.59" y1="602.1" x2="651.59" y2="600.5" stroke="#666" stroke-width="0.6"/>
<text x="656.99" y="607.50" text-anchor="end" font-size="7.55" fill="#111" transform="rotate(-55 656.99 607.50)">MINT</text>
<text x="526.80" y="428.70" font-size="8.8" text-anchor="middle" fill="#111">Mutational PPI</text>
<text x="358.0" y="513.7" text-anchor="middle" font-size="7.5" fill="#111" transform="rotate(-90 358.0 513.7)">AUPRC</text>
<g stroke="#6225cc" stroke-opacity="0.8"><line x1="399.05" y1="460.6" x2="399.05" y2="503.5" stroke-width="1.7"/><line x1="396.45" y1="460.6" x2="401.65000000000003" y2="460.6" stroke-width="0.9"/><line x1="396.45" y1="503.5" x2="401.65000000000003" y2="503.5" stroke-width="0.9"/></g>
<circle cx="399.05" cy="482" r="1.85" fill="#6225cc"/>
<g stroke="#1a90e6" stroke-opacity="0.8"><line x1="441.14" y1="446.5" x2="441.14" y2="509.5" stroke-width="1.7"/><line x1="438.53999999999996" y1="446.5" x2="443.74" y2="446.5" stroke-width="0.9"/><line x1="438.53999999999996" y1="509.5" x2="443.74" y2="509.5" stroke-width="0.9"/></g>
<circle cx="441.14" cy="478" r="1.85" fill="#1a90e6"/>
<g stroke="#c0580f" stroke-opacity="0.8"><line x1="483.23" y1="443.5" x2="483.23" y2="507.5" stroke-width="1.7"/><line x1="480.63" y1="443.5" x2="485.83000000000004" y2="443.5" stroke-width="0.9"/><line x1="480.63" y1="507.5" x2="485.83000000000004" y2="507.5" stroke-width="0.9"/></g>
<circle cx="483.23" cy="475.8" r="1.85" fill="#c0580f"/>
<g stroke="#a01e60" stroke-opacity="0.8"><line x1="525.32" y1="447.4" x2="525.32" y2="524.4" stroke-width="1.7"/><line x1="522.72" y1="447.4" x2="527.9200000000001" y2="447.4" stroke-width="0.9"/><line x1="522.72" y1="524.4" x2="527.9200000000001" y2="524.4" stroke-width="0.9"/></g>
<circle cx="525.32" cy="485.8" r="1.85" fill="#8c1050"/>
<g stroke="#f7434f" stroke-opacity="0.8"><line x1="567.41" y1="444.3" x2="567.41" y2="507.2" stroke-width="1.7"/><line x1="564.81" y1="444.3" x2="570.01" y2="444.3" stroke-width="0.9"/><line x1="564.81" y1="507.2" x2="570.01" y2="507.2" stroke-width="0.9"/></g>
<circle cx="567.41" cy="476.2" r="1.85" fill="#f7434f"/>
<g stroke="#5a1018" stroke-opacity="0.8"><line x1="609.5" y1="450.2" x2="609.5" y2="513.8" stroke-width="1.7"/><line x1="606.9" y1="450.2" x2="612.1" y2="450.2" stroke-width="0.9"/><line x1="606.9" y1="513.8" x2="612.1" y2="513.8" stroke-width="0.9"/></g>
<circle cx="609.5" cy="482" r="1.85" fill="#4a0810"/>
<g stroke="#137a35" stroke-opacity="0.8"><line x1="651.59" y1="451.2" x2="651.59" y2="494.1" stroke-width="1.7"/><line x1="648.99" y1="451.2" x2="654.19" y2="451.2" stroke-width="0.9"/><line x1="648.99" y1="494.1" x2="654.19" y2="494.1" stroke-width="0.9"/></g>
<circle cx="651.59" cy="472.6" r="1.85" fill="#137a35"/>
<text x="409.80" y="575.20" font-size="8.8" fill="#111">Comparable to second-best</text>
<text x="409.80" y="586.20" font-size="8.55" fill="#111">+2% over average</text>
<line x1="47.5" y1="858.2" x2="325.5" y2="858.2" stroke="#d2d2d2" stroke-width="1.1"/>
<line x1="47.5" y1="696" x2="47.5" y2="858.2" stroke="#ababab" stroke-width="1.2"/>
<line x1="47.2" y1="725.4" x2="49.1" y2="725.4" stroke="#666" stroke-width="0.6"/>
<text x="46.10" y="727.85" font-size="7.6" text-anchor="end" fill="#111">0.40</text>
<line x1="47.2" y1="758.48" x2="49.1" y2="758.48" stroke="#666" stroke-width="0.6"/>
<text x="46.10" y="760.93" font-size="7.6" text-anchor="end" fill="#111">0.30</text>
<line x1="47.2" y1="791.55" x2="49.1" y2="791.55" stroke="#666" stroke-width="0.6"/>
<text x="46.10" y="794.00" font-size="7.6" text-anchor="end" fill="#111">0.20</text>
<line x1="47.2" y1="824.62" x2="49.1" y2="824.62" stroke="#666" stroke-width="0.6"/>
<text x="46.10" y="827.07" font-size="7.6" text-anchor="end" fill="#111">0.10</text>
<line x1="47.2" y1="857.7" x2="49.1" y2="857.7" stroke="#666" stroke-width="0.6"/>
<text x="46.10" y="860.15" font-size="7.6" text-anchor="end" fill="#111">0.00</text>
<line x1="47.2" y1="698.94" x2="48.4" y2="698.94" stroke="#777" stroke-width="0.5"/>
<line x1="47.2" y1="705.55" x2="48.4" y2="705.55" stroke="#777" stroke-width="0.5"/>
<line x1="47.2" y1="712.17" x2="48.4" y2="712.17" stroke="#777" stroke-width="0.5"/>
<line x1="47.2" y1="718.78" x2="48.4" y2="718.78" stroke="#777" stroke-width="0.5"/>
<line x1="47.2" y1="732.01" x2="48.4" y2="732.01" stroke="#777" stroke-width="0.5"/>
<line x1="47.2" y1="738.63" x2="48.4" y2="738.63" stroke="#777" stroke-width="0.5"/>
<line x1="47.2" y1="745.25" x2="48.4" y2="745.25" stroke="#777" stroke-width="0.5"/>
<line x1="47.2" y1="751.86" x2="48.4" y2="751.86" stroke="#777" stroke-width="0.5"/>
<line x1="47.2" y1="765.09" x2="48.4" y2="765.09" stroke="#777" stroke-width="0.5"/>
<line x1="47.2" y1="771.71" x2="48.4" y2="771.71" stroke="#777" stroke-width="0.5"/>
<line x1="47.2" y1="778.32" x2="48.4" y2="778.32" stroke="#777" stroke-width="0.5"/>
<line x1="47.2" y1="784.94" x2="48.4" y2="784.94" stroke="#777" stroke-width="0.5"/>
<line x1="47.2" y1="798.17" x2="48.4" y2="798.17" stroke="#777" stroke-width="0.5"/>
<line x1="47.2" y1="804.78" x2="48.4" y2="804.78" stroke="#777" stroke-width="0.5"/>
<line x1="47.2" y1="811.40" x2="48.4" y2="811.40" stroke="#777" stroke-width="0.5"/>
<line x1="47.2" y1="818.01" x2="48.4" y2="818.01" stroke="#777" stroke-width="0.5"/>
<line x1="47.2" y1="831.24" x2="48.4" y2="831.24" stroke="#777" stroke-width="0.5"/>
<line x1="47.2" y1="837.86" x2="48.4" y2="837.86" stroke="#777" stroke-width="0.5"/>
<line x1="47.2" y1="844.47" x2="48.4" y2="844.47" stroke="#777" stroke-width="0.5"/>
<line x1="47.2" y1="851.09" x2="48.4" y2="851.09" stroke="#777" stroke-width="0.5"/>
<line x1="60.1" y1="858.2" x2="60.1" y2="856.6" stroke="#666" stroke-width="0.6"/>
<text x="65.50" y="863.60" text-anchor="end" font-size="7.55" fill="#111" transform="rotate(-55 65.50 863.60)">ESM-1b</text>
<line x1="102.16" y1="858.2" x2="102.16" y2="856.6" stroke="#666" stroke-width="0.6"/>
<text x="107.56" y="863.60" text-anchor="end" font-size="7.55" fill="#111" transform="rotate(-55 107.56 863.60)">ESM-2-650M</text>
<line x1="144.22" y1="858.2" x2="144.22" y2="856.6" stroke="#666" stroke-width="0.6"/>
<text x="149.62" y="863.60" text-anchor="end" font-size="7.55" fill="#111" transform="rotate(-55 149.62 863.60)">ESM-2-3B</text>
<line x1="186.28" y1="858.2" x2="186.28" y2="856.6" stroke="#666" stroke-width="0.6"/>
<text x="191.68" y="863.60" text-anchor="end" font-size="7.55" fill="#111" transform="rotate(-55 191.68 863.60)">Progen2-Large</text>
<line x1="228.34" y1="858.2" x2="228.34" y2="856.6" stroke="#666" stroke-width="0.6"/>
<text x="233.74" y="863.60" text-anchor="end" font-size="7.55" fill="#111" transform="rotate(-55 233.74 863.60)">ProtT5-Uniref</text>
<line x1="270.4" y1="858.2" x2="270.4" y2="856.6" stroke="#666" stroke-width="0.6"/>
<text x="275.80" y="863.60" text-anchor="end" font-size="7.55" fill="#111" transform="rotate(-55 275.80 863.60)">ProtT5-BFD</text>
<line x1="312.46" y1="858.2" x2="312.46" y2="856.6" stroke="#666" stroke-width="0.6"/>
<text x="317.86" y="863.60" text-anchor="end" font-size="7.55" fill="#111" transform="rotate(-55 317.86 863.60)">MINT</text>
<text x="188.00" y="693.40" font-size="8.8" text-anchor="middle" fill="#111">SKEMPI</text>
<text x="20.7" y="781.4" text-anchor="middle" font-size="7.5" fill="#111" transform="rotate(-90 20.7 781.4)">PCC</text>
<g stroke="#6225cc" stroke-opacity="0.8"><line x1="60.1" y1="728.4" x2="60.1" y2="802.7" stroke-width="1.7"/><line x1="57.5" y1="728.4" x2="62.7" y2="728.4" stroke-width="0.9"/><line x1="57.5" y1="802.7" x2="62.7" y2="802.7" stroke-width="0.9"/></g>
<circle cx="60.1" cy="765.9" r="1.85" fill="#6225cc"/>
<g stroke="#1a90e6" stroke-opacity="0.8"><line x1="102.16" y1="719.2" x2="102.16" y2="826.6" stroke-width="1.7"/><line x1="99.56" y1="719.2" x2="104.75999999999999" y2="719.2" stroke-width="0.9"/><line x1="99.56" y1="826.6" x2="104.75999999999999" y2="826.6" stroke-width="0.9"/></g>
<circle cx="102.16" cy="773" r="1.85" fill="#1a90e6"/>
<g stroke="#c0580f" stroke-opacity="0.8"><line x1="144.22" y1="728.9" x2="144.22" y2="761.4" stroke-width="1.7"/><line x1="141.62" y1="728.9" x2="146.82" y2="728.9" stroke-width="0.9"/><line x1="141.62" y1="761.4" x2="146.82" y2="761.4" stroke-width="0.9"/></g>
<circle cx="144.22" cy="745.3" r="1.85" fill="#c0580f"/>
<g stroke="#a01e60" stroke-opacity="0.8"><line x1="186.28" y1="712.4" x2="186.28" y2="751.3" stroke-width="1.7"/><line x1="183.68" y1="712.4" x2="188.88" y2="712.4" stroke-width="0.9"/><line x1="183.68" y1="751.3" x2="188.88" y2="751.3" stroke-width="0.9"/></g>
<circle cx="186.28" cy="732" r="1.85" fill="#8c1050"/>
<g stroke="#f7434f" stroke-opacity="0.8"><line x1="228.34" y1="732.7" x2="228.34" y2="773.4" stroke-width="1.7"/><line x1="225.74" y1="732.7" x2="230.94" y2="732.7" stroke-width="0.9"/><line x1="225.74" y1="773.4" x2="230.94" y2="773.4" stroke-width="0.9"/></g>
<circle cx="228.34" cy="753.3" r="1.85" fill="#f7434f"/>
<g stroke="#5a1018" stroke-opacity="0.8"><line x1="270.4" y1="733.5" x2="270.4" y2="787.5" stroke-width="1.7"/><line x1="267.79999999999995" y1="733.5" x2="273.0" y2="733.5" stroke-width="0.9"/><line x1="267.79999999999995" y1="787.5" x2="273.0" y2="787.5" stroke-width="0.9"/></g>
<circle cx="270.4" cy="760.3" r="1.85" fill="#4a0810"/>
<g stroke="#137a35" stroke-opacity="0.8"><line x1="312.46" y1="702.3" x2="312.46" y2="747" stroke-width="1.7"/><line x1="309.85999999999996" y1="702.3" x2="315.06" y2="702.3" stroke-width="0.9"/><line x1="309.85999999999996" y1="747" x2="315.06" y2="747" stroke-width="0.9"/></g>
<circle cx="312.46" cy="724.4" r="1.85" fill="#137a35"/>
<text x="65.00" y="841.80" font-size="8.8" fill="#111">+32% over second-best</text>
<line x1="386.1" y1="859.6" x2="664" y2="859.6" stroke="#d2d2d2" stroke-width="1.1"/>
<line x1="386.1" y1="698" x2="386.1" y2="859.6" stroke="#d8d8d8" stroke-width="1.4"/>
<line x1="385.8" y1="712.2" x2="387.70000000000005" y2="712.2" stroke="#666" stroke-width="0.6"/>
<text x="384.70" y="714.65" font-size="7.6" text-anchor="end" fill="#111">0.625</text>
<line x1="385.8" y1="733.17" x2="387.70000000000005" y2="733.17" stroke="#666" stroke-width="0.6"/>
<text x="384.70" y="735.62" font-size="7.6" text-anchor="end" fill="#111">0.600</text>
<line x1="385.8" y1="754.14" x2="387.70000000000005" y2="754.14" stroke="#666" stroke-width="0.6"/>
<text x="384.70" y="756.59" font-size="7.6" text-anchor="end" fill="#111">0.575</text>
<line x1="385.8" y1="775.11" x2="387.70000000000005" y2="775.11" stroke="#666" stroke-width="0.6"/>
<text x="384.70" y="777.56" font-size="7.6" text-anchor="end" fill="#111">0.550</text>
<line x1="385.8" y1="796.09" x2="387.70000000000005" y2="796.09" stroke="#666" stroke-width="0.6"/>
<text x="384.70" y="798.54" font-size="7.6" text-anchor="end" fill="#111">0.525</text>
<line x1="385.8" y1="817.06" x2="387.70000000000005" y2="817.06" stroke="#666" stroke-width="0.6"/>
<text x="384.70" y="819.51" font-size="7.6" text-anchor="end" fill="#111">0.500</text>
<line x1="385.8" y1="838.03" x2="387.70000000000005" y2="838.03" stroke="#666" stroke-width="0.6"/>
<text x="384.70" y="840.48" font-size="7.6" text-anchor="end" fill="#111">0.475</text>
<line x1="385.8" y1="859.0" x2="387.70000000000005" y2="859.0" stroke="#666" stroke-width="0.6"/>
<text x="384.70" y="861.45" font-size="7.6" text-anchor="end" fill="#111">0.450</text>
<line x1="385.8" y1="699.62" x2="387.0" y2="699.62" stroke="#777" stroke-width="0.5"/>
<line x1="385.8" y1="703.81" x2="387.0" y2="703.81" stroke="#777" stroke-width="0.5"/>
<line x1="385.8" y1="708.01" x2="387.0" y2="708.01" stroke="#777" stroke-width="0.5"/>
<line x1="385.8" y1="716.39" x2="387.0" y2="716.39" stroke="#777" stroke-width="0.5"/>
<line x1="385.8" y1="720.59" x2="387.0" y2="720.59" stroke="#777" stroke-width="0.5"/>
<line x1="385.8" y1="724.78" x2="387.0" y2="724.78" stroke="#777" stroke-width="0.5"/>
<line x1="385.8" y1="728.98" x2="387.0" y2="728.98" stroke="#777" stroke-width="0.5"/>
<line x1="385.8" y1="737.37" x2="387.0" y2="737.37" stroke="#777" stroke-width="0.5"/>
<line x1="385.8" y1="741.56" x2="387.0" y2="741.56" stroke="#777" stroke-width="0.5"/>
<line x1="385.8" y1="745.75" x2="387.0" y2="745.75" stroke="#777" stroke-width="0.5"/>
<line x1="385.8" y1="749.95" x2="387.0" y2="749.95" stroke="#777" stroke-width="0.5"/>
<line x1="385.8" y1="758.34" x2="387.0" y2="758.34" stroke="#777" stroke-width="0.5"/>
<line x1="385.8" y1="762.53" x2="387.0" y2="762.53" stroke="#777" stroke-width="0.5"/>
<line x1="385.8" y1="766.73" x2="387.0" y2="766.73" stroke="#777" stroke-width="0.5"/>
<line x1="385.8" y1="770.92" x2="387.0" y2="770.92" stroke="#777" stroke-width="0.5"/>
<line x1="385.8" y1="779.31" x2="387.0" y2="779.31" stroke="#777" stroke-width="0.5"/>
<line x1="385.8" y1="783.50" x2="387.0" y2="783.50" stroke="#777" stroke-width="0.5"/>
<line x1="385.8" y1="787.70" x2="387.0" y2="787.70" stroke="#777" stroke-width="0.5"/>
<line x1="385.8" y1="791.89" x2="387.0" y2="791.89" stroke="#777" stroke-width="0.5"/>
<line x1="385.8" y1="800.28" x2="387.0" y2="800.28" stroke="#777" stroke-width="0.5"/>
<line x1="385.8" y1="804.47" x2="387.0" y2="804.47" stroke="#777" stroke-width="0.5"/>
<line x1="385.8" y1="808.67" x2="387.0" y2="808.67" stroke="#777" stroke-width="0.5"/>
<line x1="385.8" y1="812.86" x2="387.0" y2="812.86" stroke="#777" stroke-width="0.5"/>
<line x1="385.8" y1="821.25" x2="387.0" y2="821.25" stroke="#777" stroke-width="0.5"/>
<line x1="385.8" y1="825.45" x2="387.0" y2="825.45" stroke="#777" stroke-width="0.5"/>
<line x1="385.8" y1="829.64" x2="387.0" y2="829.64" stroke="#777" stroke-width="0.5"/>
<line x1="385.8" y1="833.83" x2="387.0" y2="833.83" stroke="#777" stroke-width="0.5"/>
<line x1="385.8" y1="842.22" x2="387.0" y2="842.22" stroke="#777" stroke-width="0.5"/>
<line x1="385.8" y1="846.42" x2="387.0" y2="846.42" stroke="#777" stroke-width="0.5"/>
<line x1="385.8" y1="850.61" x2="387.0" y2="850.61" stroke="#777" stroke-width="0.5"/>
<line x1="385.8" y1="854.81" x2="387.0" y2="854.81" stroke="#777" stroke-width="0.5"/>
<line x1="399.05" y1="859.6" x2="399.05" y2="858.0" stroke="#666" stroke-width="0.6"/>
<text x="404.45" y="865.00" text-anchor="end" font-size="7.55" fill="#111" transform="rotate(-55 404.45 865.00)">ESM-1b</text>
<line x1="441.14" y1="859.6" x2="441.14" y2="858.0" stroke="#666" stroke-width="0.6"/>
<text x="446.54" y="865.00" text-anchor="end" font-size="7.55" fill="#111" transform="rotate(-55 446.54 865.00)">ESM-2-650M</text>
<line x1="483.23" y1="859.6" x2="483.23" y2="858.0" stroke="#666" stroke-width="0.6"/>
<text x="488.63" y="865.00" text-anchor="end" font-size="7.55" fill="#111" transform="rotate(-55 488.63 865.00)">ESM-2-3B</text>
<line x1="525.32" y1="859.6" x2="525.32" y2="858.0" stroke="#666" stroke-width="0.6"/>
<text x="530.72" y="865.00" text-anchor="end" font-size="7.55" fill="#111" transform="rotate(-55 530.72 865.00)">Progen2-Large</text>
<line x1="567.41" y1="859.6" x2="567.41" y2="858.0" stroke="#666" stroke-width="0.6"/>
<text x="572.81" y="865.00" text-anchor="end" font-size="7.55" fill="#111" transform="rotate(-55 572.81 865.00)">ProtT5-Uniref</text>
<line x1="609.5" y1="859.6" x2="609.5" y2="858.0" stroke="#666" stroke-width="0.6"/>
<text x="614.90" y="865.00" text-anchor="end" font-size="7.55" fill="#111" transform="rotate(-55 614.90 865.00)">ProtT5-BFD</text>
<line x1="651.59" y1="859.6" x2="651.59" y2="858.0" stroke="#666" stroke-width="0.6"/>
<text x="656.99" y="865.00" text-anchor="end" font-size="7.55" fill="#111" transform="rotate(-55 656.99 865.00)">MINT</text>
<text x="528.50" y="693.40" font-size="8.8" text-anchor="middle" fill="#111">PDB-Bind</text>
<text x="358.0" y="781.4" text-anchor="middle" font-size="7.5" fill="#111" transform="rotate(-90 358.0 781.4)">PCC</text>
<g stroke="#6225cc" stroke-opacity="0.8"><line x1="399.05" y1="713.7" x2="399.05" y2="783.2" stroke-width="1.7"/><line x1="396.45" y1="713.7" x2="401.65000000000003" y2="713.7" stroke-width="0.9"/><line x1="396.45" y1="783.2" x2="401.65000000000003" y2="783.2" stroke-width="0.9"/></g>
<circle cx="399.05" cy="748.5" r="1.85" fill="#6225cc"/>
<g stroke="#1a90e6" stroke-opacity="0.8"><line x1="441.14" y1="729.6" x2="441.14" y2="777.3" stroke-width="1.7"/><line x1="438.53999999999996" y1="729.6" x2="443.74" y2="729.6" stroke-width="0.9"/><line x1="438.53999999999996" y1="777.3" x2="443.74" y2="777.3" stroke-width="0.9"/></g>
<circle cx="441.14" cy="753.4" r="1.85" fill="#1a90e6"/>
<g stroke="#c0580f" stroke-opacity="0.8"><line x1="483.23" y1="706.3" x2="483.23" y2="820.5" stroke-width="1.7"/><line x1="480.63" y1="706.3" x2="485.83000000000004" y2="706.3" stroke-width="0.9"/><line x1="480.63" y1="820.5" x2="485.83000000000004" y2="820.5" stroke-width="0.9"/></g>
<circle cx="483.23" cy="763.6" r="1.85" fill="#c0580f"/>
<g stroke="#a01e60" stroke-opacity="0.8"><line x1="525.32" y1="717.4" x2="525.32" y2="787.3" stroke-width="1.7"/><line x1="522.72" y1="717.4" x2="527.9200000000001" y2="717.4" stroke-width="0.9"/><line x1="522.72" y1="787.3" x2="527.9200000000001" y2="787.3" stroke-width="0.9"/></g>
<circle cx="525.32" cy="752.5" r="1.85" fill="#8c1050"/>
<g stroke="#f7434f" stroke-opacity="0.8"><line x1="567.41" y1="709.8" x2="567.41" y2="768.4" stroke-width="1.7"/><line x1="564.81" y1="709.8" x2="570.01" y2="709.8" stroke-width="0.9"/><line x1="564.81" y1="768.4" x2="570.01" y2="768.4" stroke-width="0.9"/></g>
<circle cx="567.41" cy="739.1" r="1.85" fill="#f7434f"/>
<g stroke="#5a1018" stroke-opacity="0.8"><line x1="609.5" y1="716.6" x2="609.5" y2="768.4" stroke-width="1.7"/><line x1="606.9" y1="716.6" x2="612.1" y2="716.6" stroke-width="0.9"/><line x1="606.9" y1="768.4" x2="612.1" y2="768.4" stroke-width="0.9"/></g>
<circle cx="609.5" cy="742.4" r="1.85" fill="#4a0810"/>
<g stroke="#137a35" stroke-opacity="0.8"><line x1="651.59" y1="703.5" x2="651.59" y2="774.7" stroke-width="1.7"/><line x1="648.99" y1="703.5" x2="654.19" y2="703.5" stroke-width="0.9"/><line x1="648.99" y1="774.7" x2="654.19" y2="774.7" stroke-width="0.9"/></g>
<circle cx="651.59" cy="739.1" r="1.85" fill="#137a35"/>
<text x="406.20" y="833.00" font-size="8.8" fill="#111">Comparable to second-best</text>
<text x="406.20" y="844.60" font-size="8.55" fill="#111">+2.5% over average</text>
</svg>
</body></html>
